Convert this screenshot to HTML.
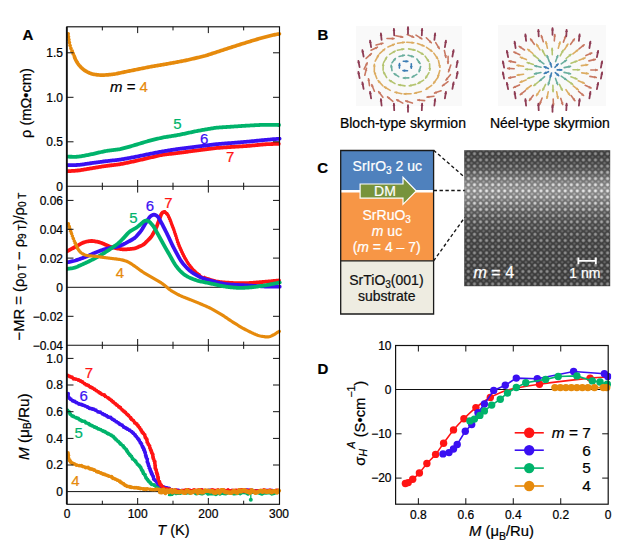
<!DOCTYPE html>
<html><head><meta charset="utf-8"><style>
html,body{margin:0;padding:0;background:#fff;overflow:hidden;width:636px;height:551px;}
svg{display:block;}
text{font-family:"Liberation Sans", sans-serif;}
</style></head><body>
<svg width="636" height="551" viewBox="0 0 636 551">
<defs>
<clipPath id="clipA1"><rect x="67" y="26.8" width="215" height="159.5"/></clipPath>
<clipPath id="clipA2"><rect x="67" y="186.3" width="215" height="159.0"/></clipPath>
<clipPath id="clipA3"><rect x="67" y="345.3" width="215" height="159.0"/></clipPath>
<clipPath id="clipRedL"><rect x="0" y="0" width="166" height="551"/><rect x="204" y="0" width="100" height="551"/></clipPath><clipPath id="clipRedR"><rect x="166" y="0" width="38" height="551"/></clipPath><clipPath id="clipRedL2"><rect x="206" y="0" width="100" height="551"/></clipPath><clipPath id="clipOrL"><rect x="76" y="0" width="300" height="551"/></clipPath><clipPath id="clipOrR"><rect x="0" y="0" width="76" height="551"/></clipPath><clipPath id="clipOtL"><rect x="73" y="0" width="300" height="551"/></clipPath><clipPath id="clipOtR"><rect x="0" y="0" width="73" height="551"/></clipPath>
<clipPath id="clipD"><rect x="395.6" y="345.5" width="215.60000000000002" height="158.7"/></clipPath>
</defs>
<line x1="67" y1="287.3" x2="279" y2="287.3" stroke="#111" stroke-width="1.0" />
<line x1="67" y1="491.6" x2="279" y2="491.6" stroke="#111" stroke-width="1.0" />
<g clip-path="url(#clipA1)">
<path d="M68.20,33.70 L68.32,34.69 L68.43,35.69 L68.55,36.68 L68.67,37.67 L68.79,38.66 L68.93,39.65 L69.07,40.64 L69.23,41.63 L69.41,42.61 L69.61,43.59 L69.83,44.56 L70.08,45.53 L70.34,46.49 L70.63,47.44 L70.94,48.39 L71.28,49.33 L71.62,50.27 L71.99,51.20 L72.35,52.13 L72.73,53.05 L73.11,53.98 L73.49,54.90 L73.88,55.82 L74.28,56.74 L74.68,57.65 L75.11,58.56 L75.54,59.46 L75.99,60.35 L76.46,61.22 L76.96,62.09 L77.48,62.93 L78.04,63.75 L78.63,64.55 L79.24,65.33 L79.89,66.10 L80.55,66.83 L81.25,67.54 L81.97,68.23 L82.71,68.89 L83.48,69.52 L84.27,70.12 L85.08,70.68 L85.92,71.21 L86.78,71.70 L87.67,72.15 L88.57,72.56 L89.48,72.95 L90.41,73.31 L91.35,73.64 L92.30,73.92 L93.26,74.17 L94.23,74.37 L95.21,74.54 L96.19,74.69 L97.18,74.82 L98.17,74.92 L99.17,75.01 L100.16,75.07 L101.16,75.10 L102.16,75.11 L103.15,75.09 L104.15,75.06 L105.15,75.01 L106.15,74.95 L107.14,74.87 L108.14,74.79 L109.14,74.70 L110.13,74.60 L111.12,74.50 L112.12,74.39 L113.11,74.26 L114.10,74.12 L115.08,73.96 L116.06,73.79 L117.04,73.59 L118.02,73.39 L119.00,73.18 L119.98,72.97 L120.95,72.75 L121.93,72.54 L122.91,72.33 L123.89,72.12 L124.87,71.92 L125.84,71.71 L126.82,71.51 L127.80,71.31 L128.78,71.11 L129.76,70.91 L130.74,70.72 L131.72,70.52 L132.70,70.32 L133.68,70.12 L134.66,69.92 L135.64,69.73 L136.63,69.53 L137.61,69.33 L138.59,69.13 L139.57,68.93 L140.55,68.74 L141.53,68.54 L142.51,68.34 L143.49,68.14 L144.47,67.95 L145.45,67.75 L146.43,67.55 L147.41,67.36 L148.39,67.16 L149.37,66.97 L150.35,66.78 L151.34,66.59 L152.32,66.41 L153.30,66.24 L154.29,66.07 L155.27,65.90 L156.26,65.74 L157.25,65.57 L158.23,65.41 L159.22,65.25 L160.21,65.09 L161.19,64.92 L162.18,64.76 L163.17,64.59 L164.15,64.43 L165.14,64.26 L166.12,64.08 L167.11,63.90 L168.09,63.73 L169.07,63.55 L170.06,63.36 L171.04,63.18 L172.02,63.00 L173.01,62.82 L173.99,62.64 L174.97,62.45 L175.96,62.27 L176.94,62.09 L177.92,61.91 L178.91,61.73 L179.89,61.54 L180.87,61.36 L181.86,61.18 L182.84,60.99 L183.82,60.79 L184.80,60.59 L185.78,60.39 L186.75,60.17 L187.73,59.95 L188.70,59.73 L189.68,59.50 L190.65,59.27 L191.62,59.04 L192.60,58.81 L193.57,58.59 L194.54,58.36 L195.52,58.13 L196.49,57.90 L197.46,57.67 L198.44,57.44 L199.41,57.21 L200.38,56.98 L201.36,56.75 L202.33,56.51 L203.30,56.27 L204.26,56.01 L205.23,55.75 L206.18,55.47 L207.14,55.17 L208.09,54.87 L209.04,54.57 L210.00,54.26 L210.95,53.94 L211.90,53.63 L212.85,53.32 L213.80,53.01 L214.75,52.70 L215.70,52.38 L216.65,52.07 L217.60,51.76 L218.55,51.45 L219.50,51.13 L220.45,50.82 L221.40,50.51 L222.35,50.20 L223.30,49.88 L224.25,49.57 L225.20,49.26 L226.15,48.95 L227.10,48.64 L228.05,48.34 L229.00,48.03 L229.95,47.72 L230.91,47.42 L231.86,47.12 L232.81,46.81 L233.76,46.51 L234.72,46.21 L235.67,45.90 L236.62,45.60 L237.58,45.30 L238.53,44.99 L239.48,44.69 L240.44,44.39 L241.39,44.09 L242.34,43.79 L243.30,43.49 L244.25,43.19 L245.21,42.90 L246.16,42.60 L247.12,42.31 L248.08,42.02 L249.03,41.73 L249.99,41.43 L250.94,41.14 L251.90,40.85 L252.86,40.56 L253.81,40.26 L254.77,39.97 L255.73,39.68 L256.69,39.40 L257.65,39.12 L258.61,38.84 L259.57,38.57 L260.53,38.31 L261.50,38.05 L262.47,37.79 L263.43,37.54 L264.40,37.29 L265.37,37.03 L266.34,36.78 L267.30,36.53 L268.27,36.27 L269.24,36.02 L270.21,35.77 L271.18,35.53 L272.15,35.29 L273.12,35.06 L274.09,34.85 L275.07,34.65 L276.04,34.46 L277.01,34.29 L277.97,34.13 L278.92,33.98 L279.40,33.90" fill="none" stroke="#e68a0c" stroke-width="3.7" stroke-linecap="round" stroke-linejoin="round" clip-path="url(#clipOtL)"/>
<path d="M68.20,33.70 L68.32,34.69 L68.43,35.69 L68.55,36.68 L68.67,37.67 L68.79,38.66 L68.93,39.65 L69.07,40.64 L69.23,41.63 L69.41,42.61 L69.61,43.59 L69.83,44.56 L70.08,45.53 L70.34,46.49 L70.63,47.44 L70.94,48.39 L71.28,49.33 L71.62,50.27 L71.99,51.20 L72.35,52.13 L72.73,53.05 L73.11,53.98 L73.49,54.90 L73.88,55.82 L74.28,56.74 L74.68,57.65 L75.11,58.56 L75.54,59.46 L75.99,60.35 L76.46,61.22 L76.96,62.09 L77.48,62.93 L78.04,63.75 L78.63,64.55 L79.24,65.33 L79.89,66.10 L80.55,66.83 L81.25,67.54 L81.97,68.23 L82.71,68.89 L83.48,69.52 L84.27,70.12 L85.08,70.68 L85.92,71.21 L86.78,71.70 L87.67,72.15 L88.57,72.56 L89.48,72.95 L90.41,73.31 L91.35,73.64 L92.30,73.92 L93.26,74.17 L94.23,74.37 L95.21,74.54 L96.19,74.69 L97.18,74.82 L98.17,74.92 L99.17,75.01 L100.16,75.07 L101.16,75.10 L102.16,75.11 L103.15,75.09 L104.15,75.06 L105.15,75.01 L106.15,74.95 L107.14,74.87 L108.14,74.79 L109.14,74.70 L110.13,74.60 L111.12,74.50 L112.12,74.39 L113.11,74.26 L114.10,74.12 L115.08,73.96 L116.06,73.79 L117.04,73.59 L118.02,73.39 L119.00,73.18 L119.98,72.97 L120.95,72.75 L121.93,72.54 L122.91,72.33 L123.89,72.12 L124.87,71.92 L125.84,71.71 L126.82,71.51 L127.80,71.31 L128.78,71.11 L129.76,70.91 L130.74,70.72 L131.72,70.52 L132.70,70.32 L133.68,70.12 L134.66,69.92 L135.64,69.73 L136.63,69.53 L137.61,69.33 L138.59,69.13 L139.57,68.93 L140.55,68.74 L141.53,68.54 L142.51,68.34 L143.49,68.14 L144.47,67.95 L145.45,67.75 L146.43,67.55 L147.41,67.36 L148.39,67.16 L149.37,66.97 L150.35,66.78 L151.34,66.59 L152.32,66.41 L153.30,66.24 L154.29,66.07 L155.27,65.90 L156.26,65.74 L157.25,65.57 L158.23,65.41 L159.22,65.25 L160.21,65.09 L161.19,64.92 L162.18,64.76 L163.17,64.59 L164.15,64.43 L165.14,64.26 L166.12,64.08 L167.11,63.90 L168.09,63.73 L169.07,63.55 L170.06,63.36 L171.04,63.18 L172.02,63.00 L173.01,62.82 L173.99,62.64 L174.97,62.45 L175.96,62.27 L176.94,62.09 L177.92,61.91 L178.91,61.73 L179.89,61.54 L180.87,61.36 L181.86,61.18 L182.84,60.99 L183.82,60.79 L184.80,60.59 L185.78,60.39 L186.75,60.17 L187.73,59.95 L188.70,59.73 L189.68,59.50 L190.65,59.27 L191.62,59.04 L192.60,58.81 L193.57,58.59 L194.54,58.36 L195.52,58.13 L196.49,57.90 L197.46,57.67 L198.44,57.44 L199.41,57.21 L200.38,56.98 L201.36,56.75 L202.33,56.51 L203.30,56.27 L204.26,56.01 L205.23,55.75 L206.18,55.47 L207.14,55.17 L208.09,54.87 L209.04,54.57 L210.00,54.26 L210.95,53.94 L211.90,53.63 L212.85,53.32 L213.80,53.01 L214.75,52.70 L215.70,52.38 L216.65,52.07 L217.60,51.76 L218.55,51.45 L219.50,51.13 L220.45,50.82 L221.40,50.51 L222.35,50.20 L223.30,49.88 L224.25,49.57 L225.20,49.26 L226.15,48.95 L227.10,48.64 L228.05,48.34 L229.00,48.03 L229.95,47.72 L230.91,47.42 L231.86,47.12 L232.81,46.81 L233.76,46.51 L234.72,46.21 L235.67,45.90 L236.62,45.60 L237.58,45.30 L238.53,44.99 L239.48,44.69 L240.44,44.39 L241.39,44.09 L242.34,43.79 L243.30,43.49 L244.25,43.19 L245.21,42.90 L246.16,42.60 L247.12,42.31 L248.08,42.02 L249.03,41.73 L249.99,41.43 L250.94,41.14 L251.90,40.85 L252.86,40.56 L253.81,40.26 L254.77,39.97 L255.73,39.68 L256.69,39.40 L257.65,39.12 L258.61,38.84 L259.57,38.57 L260.53,38.31 L261.50,38.05 L262.47,37.79 L263.43,37.54 L264.40,37.29 L265.37,37.03 L266.34,36.78 L267.30,36.53 L268.27,36.27 L269.24,36.02 L270.21,35.77 L271.18,35.53 L272.15,35.29 L273.12,35.06 L274.09,34.85 L275.07,34.65 L276.04,34.46 L277.01,34.29 L277.97,34.13 L278.92,33.98 L279.40,33.90" fill="none" stroke="#e68a0c" stroke-width="2.0" stroke-linecap="round" stroke-linejoin="round" clip-path="url(#clipOtR)"/>
<g fill="#e68a0c"><circle cx="68.20" cy="33.70" r="1.8"/><circle cx="68.55" cy="36.68" r="1.8"/><circle cx="68.93" cy="39.66" r="1.8"/><circle cx="69.41" cy="42.62" r="1.8"/><circle cx="70.08" cy="45.54" r="1.8"/><circle cx="70.95" cy="48.41" r="1.8"/><circle cx="72.00" cy="51.22" r="1.8"/><circle cx="73.12" cy="54.00" r="1.8"/><circle cx="74.29" cy="56.77" r="1.8"/></g>
<path d="M67.80,171.20 L68.80,171.14 L69.80,171.08 L70.79,171.03 L71.79,170.97 L72.79,170.91 L73.79,170.84 L74.79,170.78 L75.78,170.70 L76.78,170.61 L77.77,170.51 L78.76,170.40 L79.75,170.27 L80.74,170.13 L81.73,169.98 L82.72,169.82 L83.70,169.66 L84.69,169.49 L85.68,169.33 L86.66,169.16 L87.65,168.99 L88.63,168.82 L89.62,168.66 L90.60,168.49 L91.59,168.32 L92.58,168.15 L93.56,167.99 L94.55,167.82 L95.53,167.65 L96.52,167.49 L97.51,167.32 L98.49,167.15 L99.48,166.99 L100.46,166.82 L101.45,166.66 L102.44,166.49 L103.42,166.33 L104.41,166.18 L105.40,166.03 L106.39,165.88 L107.38,165.75 L108.37,165.62 L109.36,165.50 L110.36,165.38 L111.35,165.26 L112.34,165.15 L113.34,165.04 L114.33,164.93 L115.32,164.81 L116.32,164.69 L117.31,164.57 L118.30,164.44 L119.29,164.29 L120.27,164.14 L121.26,163.97 L122.24,163.79 L123.22,163.60 L124.20,163.40 L125.18,163.20 L126.16,163.00 L127.14,162.79 L128.12,162.58 L129.09,162.38 L130.07,162.17 L131.05,161.96 L132.03,161.75 L133.01,161.54 L133.98,161.32 L134.96,161.10 L135.93,160.88 L136.91,160.66 L137.88,160.44 L138.86,160.21 L139.83,159.98 L140.80,159.75 L141.78,159.53 L142.75,159.30 L143.72,159.07 L144.70,158.84 L145.67,158.62 L146.65,158.39 L147.62,158.16 L148.59,157.93 L149.57,157.71 L150.54,157.48 L151.52,157.25 L152.49,157.03 L153.46,156.80 L154.44,156.57 L155.41,156.35 L156.39,156.12 L157.36,155.90 L158.34,155.68 L159.31,155.47 L160.29,155.26 L161.27,155.07 L162.25,154.89 L163.24,154.72 L164.22,154.57 L165.21,154.44 L166.20,154.31 L167.20,154.19 L168.19,154.08 L169.18,153.97 L170.18,153.86 L171.17,153.75 L172.16,153.64 L173.16,153.53 L174.15,153.42 L175.15,153.31 L176.14,153.19 L177.13,153.07 L178.12,152.95 L179.12,152.83 L180.11,152.70 L181.10,152.57 L182.09,152.43 L183.08,152.30 L184.07,152.16 L185.06,152.03 L186.05,151.89 L187.04,151.76 L188.04,151.62 L189.03,151.48 L190.02,151.35 L191.01,151.21 L192.00,151.07 L192.99,150.94 L193.98,150.80 L194.97,150.67 L195.96,150.54 L196.95,150.40 L197.94,150.27 L198.94,150.14 L199.93,150.02 L200.92,149.89 L201.91,149.76 L202.90,149.63 L203.89,149.51 L204.89,149.38 L205.88,149.25 L206.87,149.13 L207.86,149.00 L208.85,148.87 L209.85,148.75 L210.84,148.62 L211.83,148.50 L212.82,148.38 L213.82,148.27 L214.81,148.16 L215.81,148.06 L216.80,147.97 L217.80,147.89 L218.79,147.81 L219.79,147.74 L220.79,147.67 L221.79,147.60 L222.78,147.54 L223.78,147.47 L224.78,147.40 L225.78,147.34 L226.78,147.27 L227.77,147.21 L228.77,147.14 L229.77,147.08 L230.77,147.01 L231.76,146.95 L232.76,146.88 L233.76,146.82 L234.76,146.75 L235.76,146.69 L236.75,146.63 L237.75,146.56 L238.75,146.50 L239.75,146.43 L240.75,146.37 L241.74,146.31 L242.74,146.24 L243.74,146.18 L244.74,146.11 L245.74,146.05 L246.73,145.98 L247.73,145.91 L248.73,145.83 L249.72,145.75 L250.72,145.67 L251.72,145.58 L252.71,145.48 L253.71,145.39 L254.70,145.29 L255.70,145.19 L256.69,145.09 L257.69,144.99 L258.68,144.89 L259.68,144.79 L260.67,144.69 L261.67,144.59 L262.66,144.50 L263.66,144.41 L264.65,144.34 L265.65,144.27 L266.65,144.21 L267.65,144.16 L268.65,144.12 L269.64,144.08 L270.64,144.05 L271.64,144.02 L272.63,143.98 L273.62,143.95 L274.60,143.93 L275.56,143.90 L276.50,143.87 L277.43,143.84 L278.35,143.81 L278.80,143.80" fill="none" stroke="#ff1414" stroke-width="3.8" stroke-linecap="round" stroke-linejoin="round" />
<path d="M67.80,165.10 L68.80,165.10 L69.80,165.10 L70.80,165.10 L71.80,165.10 L72.80,165.09 L73.80,165.09 L74.80,165.07 L75.80,165.05 L76.79,165.01 L77.79,164.95 L78.78,164.88 L79.78,164.78 L80.77,164.67 L81.76,164.55 L82.75,164.41 L83.74,164.27 L84.73,164.13 L85.72,163.98 L86.71,163.83 L87.70,163.69 L88.68,163.54 L89.67,163.40 L90.66,163.25 L91.65,163.11 L92.64,162.97 L93.63,162.83 L94.62,162.69 L95.62,162.56 L96.61,162.43 L97.60,162.29 L98.59,162.16 L99.58,162.03 L100.57,161.89 L101.56,161.76 L102.55,161.63 L103.55,161.50 L104.54,161.38 L105.53,161.25 L106.52,161.13 L107.52,161.02 L108.51,160.90 L109.50,160.80 L110.50,160.69 L111.49,160.58 L112.49,160.48 L113.48,160.38 L114.47,160.27 L115.47,160.16 L116.46,160.05 L117.46,159.94 L118.45,159.82 L119.44,159.69 L120.43,159.54 L121.42,159.39 L122.40,159.23 L123.39,159.07 L124.37,158.89 L125.36,158.72 L126.34,158.54 L127.32,158.36 L128.31,158.18 L129.29,158.00 L130.27,157.82 L131.26,157.63 L132.24,157.45 L133.22,157.26 L134.20,157.07 L135.19,156.88 L136.17,156.69 L137.15,156.49 L138.13,156.29 L139.11,156.09 L140.09,155.89 L141.07,155.69 L142.05,155.49 L143.02,155.29 L144.00,155.08 L144.98,154.88 L145.96,154.68 L146.94,154.48 L147.92,154.29 L148.90,154.09 L149.88,153.89 L150.87,153.70 L151.85,153.50 L152.83,153.31 L153.81,153.11 L154.79,152.92 L155.77,152.73 L156.75,152.53 L157.73,152.34 L158.71,152.15 L159.70,151.96 L160.68,151.78 L161.66,151.60 L162.65,151.42 L163.63,151.25 L164.62,151.09 L165.61,150.93 L166.59,150.77 L167.58,150.62 L168.57,150.46 L169.56,150.31 L170.55,150.15 L171.53,150.00 L172.52,149.85 L173.51,149.70 L174.50,149.55 L175.49,149.40 L176.48,149.25 L177.47,149.11 L178.46,148.97 L179.45,148.83 L180.44,148.70 L181.43,148.57 L182.42,148.44 L183.41,148.31 L184.40,148.19 L185.40,148.06 L186.39,147.93 L187.38,147.81 L188.37,147.68 L189.36,147.56 L190.36,147.43 L191.35,147.30 L192.34,147.18 L193.33,147.05 L194.33,146.93 L195.32,146.80 L196.31,146.67 L197.30,146.55 L198.29,146.42 L199.29,146.30 L200.28,146.17 L201.27,146.04 L202.26,145.92 L203.25,145.79 L204.24,145.66 L205.24,145.54 L206.23,145.41 L207.22,145.28 L208.21,145.16 L209.20,145.03 L210.20,144.90 L211.19,144.78 L212.18,144.66 L213.17,144.54 L214.17,144.42 L215.16,144.32 L216.16,144.21 L217.15,144.12 L218.15,144.03 L219.14,143.95 L220.14,143.86 L221.14,143.79 L222.13,143.71 L223.13,143.63 L224.13,143.56 L225.12,143.48 L226.12,143.40 L227.12,143.33 L228.12,143.25 L229.11,143.17 L230.11,143.10 L231.11,143.02 L232.10,142.94 L233.10,142.86 L234.10,142.78 L235.09,142.70 L236.09,142.62 L237.09,142.54 L238.08,142.46 L239.08,142.38 L240.08,142.30 L241.07,142.21 L242.07,142.13 L243.07,142.05 L244.06,141.97 L245.06,141.88 L246.06,141.80 L247.05,141.71 L248.05,141.63 L249.05,141.54 L250.04,141.45 L251.04,141.35 L252.03,141.26 L253.03,141.16 L254.02,141.06 L255.02,140.96 L256.01,140.86 L257.01,140.76 L258.00,140.65 L259.00,140.55 L259.99,140.45 L260.99,140.35 L261.98,140.25 L262.98,140.15 L263.97,140.06 L264.97,139.96 L265.96,139.87 L266.96,139.78 L267.95,139.69 L268.95,139.60 L269.95,139.52 L270.94,139.43 L271.94,139.35 L272.93,139.26 L273.92,139.18 L274.90,139.10 L275.87,139.02 L276.82,138.93 L277.76,138.86 L278.68,138.78 L279.60,138.70 L279.60,138.70" fill="none" stroke="#3a10f2" stroke-width="3.8" stroke-linecap="round" stroke-linejoin="round" />
<path d="M67.80,156.70 L68.80,156.72 L69.80,156.74 L70.80,156.76 L71.80,156.77 L72.80,156.79 L73.80,156.80 L74.80,156.79 L75.79,156.78 L76.79,156.74 L77.78,156.68 L78.77,156.59 L79.76,156.47 L80.74,156.33 L81.73,156.16 L82.71,155.99 L83.69,155.80 L84.67,155.61 L85.65,155.42 L86.63,155.22 L87.61,155.03 L88.59,154.83 L89.57,154.63 L90.55,154.43 L91.53,154.22 L92.51,154.02 L93.49,153.80 L94.46,153.58 L95.44,153.36 L96.41,153.14 L97.39,152.92 L98.36,152.69 L99.34,152.47 L100.31,152.24 L101.28,152.02 L102.26,151.80 L103.24,151.58 L104.21,151.38 L105.19,151.18 L106.17,151.00 L107.16,150.83 L108.15,150.68 L109.13,150.54 L110.13,150.42 L111.12,150.30 L112.11,150.18 L113.10,150.07 L114.10,149.95 L115.09,149.84 L116.08,149.71 L117.07,149.58 L118.06,149.44 L119.04,149.28 L120.02,149.10 L121.00,148.89 L121.97,148.67 L122.94,148.43 L123.91,148.18 L124.87,147.92 L125.83,147.65 L126.80,147.38 L127.76,147.11 L128.72,146.84 L129.68,146.57 L130.65,146.30 L131.61,146.02 L132.57,145.75 L133.53,145.47 L134.49,145.19 L135.45,144.90 L136.41,144.62 L137.36,144.33 L138.32,144.04 L139.28,143.75 L140.23,143.46 L141.19,143.17 L142.15,142.88 L143.10,142.59 L144.06,142.30 L145.02,142.01 L145.98,141.73 L146.94,141.45 L147.90,141.18 L148.86,140.91 L149.83,140.65 L150.80,140.40 L151.77,140.16 L152.74,139.91 L153.71,139.67 L154.68,139.43 L155.65,139.19 L156.62,138.95 L157.59,138.72 L158.56,138.48 L159.54,138.25 L160.51,138.03 L161.49,137.82 L162.46,137.61 L163.44,137.42 L164.43,137.24 L165.41,137.07 L166.40,136.91 L167.39,136.75 L168.37,136.59 L169.36,136.44 L170.35,136.28 L171.34,136.13 L172.33,135.98 L173.31,135.82 L174.30,135.66 L175.29,135.50 L176.27,135.34 L177.26,135.16 L178.24,134.98 L179.22,134.79 L180.20,134.60 L181.18,134.40 L182.16,134.19 L183.14,133.98 L184.12,133.77 L185.09,133.56 L186.07,133.35 L187.05,133.14 L188.02,132.93 L189.00,132.71 L189.98,132.50 L190.96,132.29 L191.93,132.08 L192.91,131.87 L193.89,131.66 L194.87,131.46 L195.85,131.26 L196.83,131.06 L197.81,130.87 L198.79,130.69 L199.78,130.51 L200.76,130.33 L201.74,130.15 L202.73,129.98 L203.71,129.80 L204.70,129.63 L205.68,129.46 L206.67,129.29 L207.65,129.11 L208.64,128.94 L209.62,128.77 L210.61,128.60 L211.60,128.43 L212.58,128.27 L213.57,128.12 L214.56,127.98 L215.55,127.85 L216.54,127.73 L217.53,127.63 L218.53,127.54 L219.52,127.46 L220.52,127.39 L221.52,127.32 L222.52,127.25 L223.51,127.19 L224.51,127.12 L225.51,127.06 L226.51,126.99 L227.51,126.93 L228.50,126.86 L229.50,126.80 L230.50,126.73 L231.50,126.66 L232.49,126.60 L233.49,126.54 L234.49,126.47 L235.49,126.41 L236.49,126.34 L237.48,126.28 L238.48,126.21 L239.48,126.15 L240.48,126.09 L241.48,126.02 L242.47,125.96 L243.47,125.90 L244.47,125.83 L245.47,125.77 L246.47,125.71 L247.46,125.65 L248.46,125.59 L249.46,125.53 L250.46,125.47 L251.46,125.42 L252.46,125.36 L253.45,125.31 L254.45,125.26 L255.45,125.21 L256.45,125.16 L257.45,125.11 L258.45,125.05 L259.45,125.01 L260.45,124.96 L261.44,124.91 L262.44,124.87 L263.44,124.83 L264.44,124.81 L265.44,124.79 L266.44,124.78 L267.44,124.78 L268.44,124.78 L269.44,124.80 L270.44,124.82 L271.43,124.83 L272.43,124.86 L273.42,124.88 L274.40,124.90 L275.36,124.92 L276.30,124.94 L277.22,124.96 L278.11,124.98 L279.00,125.00 L279.00,125.00" fill="none" stroke="#00b36b" stroke-width="3.8" stroke-linecap="round" stroke-linejoin="round" />
</g>
<g clip-path="url(#clipA2)">
<path d="M67.50,251.00 L68.38,250.53 L69.27,250.07 L70.15,249.60 L71.04,249.13 L71.92,248.67 L72.80,248.20 L73.69,247.73 L74.57,247.25 L75.44,246.77 L76.32,246.29 L77.19,245.80 L78.07,245.32 L78.94,244.83 L79.81,244.35 L80.69,243.87 L81.58,243.42 L82.47,242.99 L83.38,242.61 L84.31,242.27 L85.26,241.97 L86.21,241.71 L87.18,241.49 L88.15,241.30 L89.13,241.15 L90.11,241.04 L91.09,240.99 L92.07,241.00 L93.05,241.07 L94.04,241.18 L95.02,241.33 L96.00,241.51 L96.98,241.70 L97.95,241.92 L98.91,242.16 L99.87,242.44 L100.81,242.75 L101.74,243.09 L102.67,243.46 L103.59,243.85 L104.50,244.25 L105.42,244.65 L106.33,245.05 L107.25,245.44 L108.17,245.82 L109.10,246.19 L110.04,246.52 L110.99,246.83 L111.95,247.11 L112.91,247.37 L113.88,247.63 L114.85,247.87 L115.82,248.11 L116.79,248.34 L117.76,248.56 L118.74,248.76 L119.72,248.94 L120.71,249.10 L121.70,249.23 L122.69,249.34 L123.68,249.40 L124.67,249.42 L125.66,249.38 L126.66,249.32 L127.65,249.23 L128.65,249.13 L129.64,249.03 L130.64,248.93 L131.63,248.82 L132.62,248.71 L133.61,248.56 L134.58,248.37 L135.53,248.10 L136.46,247.78 L137.39,247.40 L138.31,247.01 L139.22,246.61 L140.14,246.21 L141.05,245.81 L141.95,245.38 L142.83,244.92 L143.65,244.39 L144.43,243.78 L145.15,243.11 L145.86,242.40 L146.57,241.69 L147.27,240.98 L147.97,240.27 L148.67,239.56 L149.37,238.85 L150.07,238.13 L150.73,237.38 L151.33,236.60 L151.88,235.77 L152.40,234.92 L152.91,234.05 L153.41,233.19 L153.91,232.32 L154.41,231.46 L154.90,230.59 L155.36,229.70 L155.78,228.80 L156.17,227.88 L156.53,226.95 L156.88,226.01 L157.24,225.08 L157.59,224.14 L157.95,223.21 L158.30,222.27 L158.65,221.34 L159.00,220.40 L159.34,219.46 L159.68,218.52 L160.01,217.57 L160.35,216.63 L160.68,215.69 L161.04,214.77 L161.47,213.90 L162.02,213.14 L162.72,212.52 L163.52,212.10 L164.35,211.95 L165.19,212.14 L165.99,212.58 L166.70,213.21 L167.29,213.96 L167.77,214.81 L168.21,215.70 L168.64,216.61 L169.06,217.52 L169.47,218.43 L169.86,219.35 L170.23,220.27 L170.59,221.21 L170.95,222.14 L171.30,223.08 L171.65,224.01 L172.01,224.95 L172.36,225.88 L172.71,226.82 L173.06,227.75 L173.41,228.69 L173.76,229.63 L174.09,230.57 L174.42,231.52 L174.73,232.47 L175.04,233.42 L175.34,234.37 L175.65,235.32 L175.96,236.27 L176.26,237.23 L176.57,238.18 L176.88,239.13 L177.18,240.08 L177.49,241.03 L177.80,241.98 L178.12,242.93 L178.45,243.87 L178.80,244.81 L179.17,245.74 L179.56,246.66 L179.96,247.57 L180.36,248.49 L180.77,249.40 L181.18,250.31 L181.59,251.22 L182.01,252.13 L182.43,253.04 L182.87,253.94 L183.31,254.83 L183.77,255.72 L184.23,256.60 L184.71,257.49 L185.18,258.36 L185.67,259.24 L186.15,260.11 L186.65,260.98 L187.16,261.83 L187.68,262.68 L188.23,263.51 L188.79,264.33 L189.38,265.13 L189.99,265.92 L190.61,266.70 L191.24,267.47 L191.89,268.23 L192.55,268.97 L193.23,269.70 L193.92,270.42 L194.63,271.11 L195.35,271.79 L196.10,272.45 L196.86,273.09 L197.63,273.71 L198.43,274.30 L199.24,274.88 L200.06,275.44 L200.89,275.96 L201.75,276.46 L202.62,276.93 L203.50,277.36 L204.40,277.76 L205.32,278.13 L206.25,278.48 L207.19,278.81 L208.13,279.12 L209.09,279.42 L210.04,279.71 L211.00,280.00 L211.95,280.28 L212.91,280.56 L213.88,280.82 L214.84,281.06 L215.81,281.29 L216.78,281.49 L217.76,281.67 L218.74,281.83 L219.73,281.97 L220.72,282.08 L221.71,282.19 L222.70,282.28 L223.70,282.36 L224.69,282.44 L225.69,282.52 L226.69,282.59 L227.68,282.66 L228.68,282.73 L229.68,282.80 L230.68,282.87 L231.67,282.93 L232.67,282.99 L233.67,283.04 L234.67,283.08 L235.67,283.11 L236.67,283.14 L237.67,283.16 L238.67,283.18 L239.67,283.18 L240.67,283.19 L241.66,283.19 L242.66,283.19 L243.66,283.18 L244.66,283.17 L245.66,283.16 L246.66,283.14 L247.66,283.11 L248.66,283.07 L249.66,283.02 L250.66,282.96 L251.65,282.90 L252.65,282.83 L253.65,282.76 L254.64,282.68 L255.64,282.60 L256.64,282.51 L257.63,282.43 L258.63,282.34 L259.62,282.26 L260.62,282.17 L261.62,282.08 L262.61,282.00 L263.61,281.91 L264.61,281.82 L265.60,281.73 L266.60,281.64 L267.59,281.55 L268.59,281.46 L269.58,281.37 L270.58,281.27 L271.57,281.18 L272.57,281.09 L273.56,281.00 L274.55,280.91 L275.54,280.82 L276.53,280.73 L277.52,280.64 L278.51,280.55 L279.00,280.50" fill="none" stroke="#ff1414" stroke-width="3.8" stroke-linecap="round" stroke-linejoin="round" clip-path="url(#clipRedL)"/>
<path d="M67.50,251.00 L68.38,250.53 L69.27,250.07 L70.15,249.60 L71.04,249.13 L71.92,248.67 L72.80,248.20 L73.69,247.73 L74.57,247.25 L75.44,246.77 L76.32,246.29 L77.19,245.80 L78.07,245.32 L78.94,244.83 L79.81,244.35 L80.69,243.87 L81.58,243.42 L82.47,242.99 L83.38,242.61 L84.31,242.27 L85.26,241.97 L86.21,241.71 L87.18,241.49 L88.15,241.30 L89.13,241.15 L90.11,241.04 L91.09,240.99 L92.07,241.00 L93.05,241.07 L94.04,241.18 L95.02,241.33 L96.00,241.51 L96.98,241.70 L97.95,241.92 L98.91,242.16 L99.87,242.44 L100.81,242.75 L101.74,243.09 L102.67,243.46 L103.59,243.85 L104.50,244.25 L105.42,244.65 L106.33,245.05 L107.25,245.44 L108.17,245.82 L109.10,246.19 L110.04,246.52 L110.99,246.83 L111.95,247.11 L112.91,247.37 L113.88,247.63 L114.85,247.87 L115.82,248.11 L116.79,248.34 L117.76,248.56 L118.74,248.76 L119.72,248.94 L120.71,249.10 L121.70,249.23 L122.69,249.34 L123.68,249.40 L124.67,249.42 L125.66,249.38 L126.66,249.32 L127.65,249.23 L128.65,249.13 L129.64,249.03 L130.64,248.93 L131.63,248.82 L132.62,248.71 L133.61,248.56 L134.58,248.37 L135.53,248.10 L136.46,247.78 L137.39,247.40 L138.31,247.01 L139.22,246.61 L140.14,246.21 L141.05,245.81 L141.95,245.38 L142.83,244.92 L143.65,244.39 L144.43,243.78 L145.15,243.11 L145.86,242.40 L146.57,241.69 L147.27,240.98 L147.97,240.27 L148.67,239.56 L149.37,238.85 L150.07,238.13 L150.73,237.38 L151.33,236.60 L151.88,235.77 L152.40,234.92 L152.91,234.05 L153.41,233.19 L153.91,232.32 L154.41,231.46 L154.90,230.59 L155.36,229.70 L155.78,228.80 L156.17,227.88 L156.53,226.95 L156.88,226.01 L157.24,225.08 L157.59,224.14 L157.95,223.21 L158.30,222.27 L158.65,221.34 L159.00,220.40 L159.34,219.46 L159.68,218.52 L160.01,217.57 L160.35,216.63 L160.68,215.69 L161.04,214.77 L161.47,213.90 L162.02,213.14 L162.72,212.52 L163.52,212.10 L164.35,211.95 L165.19,212.14 L165.99,212.58 L166.70,213.21 L167.29,213.96 L167.77,214.81 L168.21,215.70 L168.64,216.61 L169.06,217.52 L169.47,218.43 L169.86,219.35 L170.23,220.27 L170.59,221.21 L170.95,222.14 L171.30,223.08 L171.65,224.01 L172.01,224.95 L172.36,225.88 L172.71,226.82 L173.06,227.75 L173.41,228.69 L173.76,229.63 L174.09,230.57 L174.42,231.52 L174.73,232.47 L175.04,233.42 L175.34,234.37 L175.65,235.32 L175.96,236.27 L176.26,237.23 L176.57,238.18 L176.88,239.13 L177.18,240.08 L177.49,241.03 L177.80,241.98 L178.12,242.93 L178.45,243.87 L178.80,244.81 L179.17,245.74 L179.56,246.66 L179.96,247.57 L180.36,248.49 L180.77,249.40 L181.18,250.31 L181.59,251.22 L182.01,252.13 L182.43,253.04 L182.87,253.94 L183.31,254.83 L183.77,255.72 L184.23,256.60 L184.71,257.49 L185.18,258.36 L185.67,259.24 L186.15,260.11 L186.65,260.98 L187.16,261.83 L187.68,262.68 L188.23,263.51 L188.79,264.33 L189.38,265.13 L189.99,265.92 L190.61,266.70 L191.24,267.47 L191.89,268.23 L192.55,268.97 L193.23,269.70 L193.92,270.42 L194.63,271.11 L195.35,271.79 L196.10,272.45 L196.86,273.09 L197.63,273.71 L198.43,274.30 L199.24,274.88 L200.06,275.44 L200.89,275.96 L201.75,276.46 L202.62,276.93 L203.50,277.36 L204.40,277.76 L205.32,278.13 L206.25,278.48 L207.19,278.81 L208.13,279.12 L209.09,279.42 L210.04,279.71 L211.00,280.00 L211.95,280.28 L212.91,280.56 L213.88,280.82 L214.84,281.06 L215.81,281.29 L216.78,281.49 L217.76,281.67 L218.74,281.83 L219.73,281.97 L220.72,282.08 L221.71,282.19 L222.70,282.28 L223.70,282.36 L224.69,282.44 L225.69,282.52 L226.69,282.59 L227.68,282.66 L228.68,282.73 L229.68,282.80 L230.68,282.87 L231.67,282.93 L232.67,282.99 L233.67,283.04 L234.67,283.08 L235.67,283.11 L236.67,283.14 L237.67,283.16 L238.67,283.18 L239.67,283.18 L240.67,283.19 L241.66,283.19 L242.66,283.19 L243.66,283.18 L244.66,283.17 L245.66,283.16 L246.66,283.14 L247.66,283.11 L248.66,283.07 L249.66,283.02 L250.66,282.96 L251.65,282.90 L252.65,282.83 L253.65,282.76 L254.64,282.68 L255.64,282.60 L256.64,282.51 L257.63,282.43 L258.63,282.34 L259.62,282.26 L260.62,282.17 L261.62,282.08 L262.61,282.00 L263.61,281.91 L264.61,281.82 L265.60,281.73 L266.60,281.64 L267.59,281.55 L268.59,281.46 L269.58,281.37 L270.58,281.27 L271.57,281.18 L272.57,281.09 L273.56,281.00 L274.55,280.91 L275.54,280.82 L276.53,280.73 L277.52,280.64 L278.51,280.55 L279.00,280.50" fill="none" stroke="#ff1414" stroke-width="2.4" stroke-linecap="round" stroke-linejoin="round" clip-path="url(#clipRedR)"/>
<g fill="#ff1414"><circle cx="165.15" cy="212.13" r="1.75"/><circle cx="166.89" cy="213.44" r="1.75"/><circle cx="168.02" cy="215.31" r="1.75"/><circle cx="168.96" cy="217.31" r="1.75"/><circle cx="169.85" cy="219.32" r="1.75"/><circle cx="170.65" cy="221.37" r="1.75"/><circle cx="171.43" cy="223.42" r="1.75"/><circle cx="172.21" cy="225.48" r="1.75"/><circle cx="172.98" cy="227.54" r="1.75"/><circle cx="173.75" cy="229.60" r="1.75"/><circle cx="174.47" cy="231.68" r="1.75"/><circle cx="175.15" cy="233.77" r="1.75"/><circle cx="175.83" cy="235.87" r="1.75"/><circle cx="176.50" cy="237.96" r="1.75"/><circle cx="177.17" cy="240.06" r="1.75"/><circle cx="177.86" cy="242.15" r="1.75"/><circle cx="178.58" cy="244.22" r="1.75"/><circle cx="179.39" cy="246.27" r="1.75"/><circle cx="180.27" cy="248.29" r="1.75"/><circle cx="181.17" cy="250.29" r="1.75"/><circle cx="182.08" cy="252.29" r="1.75"/><circle cx="183.04" cy="254.28" r="1.75"/><circle cx="184.04" cy="256.24" r="1.75"/><circle cx="185.08" cy="258.17" r="1.75"/><circle cx="186.15" cy="260.10" r="1.75"/><circle cx="187.26" cy="262.00" r="1.75"/><circle cx="188.45" cy="263.84" r="1.75"/><circle cx="189.75" cy="265.62" r="1.75"/><circle cx="191.13" cy="267.33" r="1.75"/><circle cx="192.57" cy="268.99" r="1.75"/><circle cx="194.09" cy="270.59" r="1.75"/><circle cx="195.69" cy="272.10" r="1.75"/><circle cx="197.38" cy="273.51" r="1.75"/><circle cx="199.14" cy="274.82" r="1.75"/></g>
<path d="M66.70,262.40 L67.68,262.21 L68.66,262.02 L69.64,261.82 L70.62,261.63 L71.60,261.43 L72.58,261.22 L73.55,260.99 L74.52,260.75 L75.48,260.48 L76.43,260.19 L77.38,259.88 L78.33,259.56 L79.27,259.23 L80.21,258.90 L81.16,258.56 L82.10,258.22 L83.04,257.88 L83.97,257.53 L84.91,257.17 L85.83,256.80 L86.76,256.42 L87.68,256.03 L88.59,255.63 L89.51,255.23 L90.42,254.82 L91.34,254.41 L92.25,254.00 L93.16,253.60 L94.08,253.19 L94.99,252.80 L95.92,252.41 L96.84,252.04 L97.77,251.68 L98.71,251.33 L99.65,250.98 L100.59,250.65 L101.53,250.32 L102.48,249.99 L103.42,249.66 L104.37,249.35 L105.32,249.04 L106.27,248.75 L107.23,248.49 L108.20,248.25 L109.18,248.05 L110.16,247.86 L111.14,247.70 L112.13,247.54 L113.11,247.39 L114.10,247.24 L115.09,247.07 L116.07,246.90 L117.04,246.69 L118.00,246.45 L118.95,246.17 L119.88,245.84 L120.81,245.48 L121.73,245.09 L122.63,244.68 L123.53,244.25 L124.43,243.80 L125.32,243.35 L126.20,242.88 L127.08,242.40 L127.96,241.92 L128.83,241.44 L129.71,240.96 L130.58,240.47 L131.46,239.99 L132.32,239.50 L133.18,238.99 L134.01,238.45 L134.80,237.86 L135.53,237.20 L136.23,236.50 L136.89,235.76 L137.55,235.00 L138.20,234.24 L138.85,233.48 L139.50,232.72 L140.14,231.96 L140.76,231.18 L141.35,230.38 L141.91,229.55 L142.43,228.70 L142.94,227.84 L143.44,226.97 L143.94,226.11 L144.44,225.24 L144.95,224.38 L145.46,223.52 L145.98,222.67 L146.51,221.82 L147.05,220.98 L147.60,220.14 L148.14,219.30 L148.69,218.47 L149.26,217.65 L149.87,216.89 L150.58,216.23 L151.38,215.67 L152.23,215.19 L153.11,214.83 L153.98,214.69 L154.86,214.83 L155.73,215.20 L156.57,215.69 L157.35,216.27 L158.01,216.96 L158.58,217.76 L159.08,218.61 L159.58,219.48 L160.06,220.35 L160.55,221.23 L161.04,222.10 L161.52,222.98 L162.00,223.86 L162.46,224.74 L162.92,225.63 L163.37,226.52 L163.82,227.41 L164.27,228.31 L164.72,229.20 L165.17,230.09 L165.62,230.99 L166.08,231.88 L166.52,232.77 L166.97,233.67 L167.41,234.56 L167.85,235.46 L168.28,236.37 L168.70,237.27 L169.13,238.18 L169.55,239.08 L169.97,239.99 L170.39,240.90 L170.81,241.80 L171.24,242.71 L171.66,243.62 L172.09,244.52 L172.52,245.42 L172.97,246.32 L173.42,247.21 L173.88,248.09 L174.35,248.98 L174.82,249.86 L175.29,250.74 L175.77,251.62 L176.25,252.50 L176.72,253.38 L177.20,254.26 L177.67,255.14 L178.15,256.01 L178.63,256.89 L179.12,257.76 L179.62,258.63 L180.13,259.48 L180.66,260.32 L181.22,261.15 L181.79,261.97 L182.38,262.77 L182.99,263.55 L183.62,264.33 L184.25,265.10 L184.91,265.85 L185.57,266.59 L186.25,267.32 L186.94,268.04 L187.65,268.73 L188.38,269.41 L189.12,270.08 L189.88,270.72 L190.65,271.34 L191.44,271.95 L192.25,272.53 L193.07,273.08 L193.91,273.62 L194.76,274.14 L195.62,274.65 L196.48,275.14 L197.35,275.63 L198.23,276.10 L199.12,276.56 L200.01,277.00 L200.90,277.43 L201.81,277.83 L202.73,278.21 L203.66,278.56 L204.59,278.89 L205.54,279.19 L206.49,279.47 L207.45,279.74 L208.42,280.00 L209.38,280.25 L210.35,280.50 L211.32,280.74 L212.29,280.99 L213.26,281.23 L214.23,281.48 L215.20,281.73 L216.17,281.98 L217.13,282.23 L218.10,282.48 L219.07,282.73 L220.04,282.97 L221.01,283.20 L221.98,283.42 L222.96,283.62 L223.93,283.81 L224.92,283.98 L225.90,284.12 L226.89,284.24 L227.88,284.34 L228.87,284.43 L229.87,284.51 L230.86,284.57 L231.86,284.63 L232.86,284.68 L233.86,284.74 L234.85,284.79 L235.85,284.84 L236.85,284.89 L237.85,284.94 L238.85,284.99 L239.85,285.05 L240.85,285.10 L241.84,285.15 L242.84,285.21 L243.84,285.26 L244.84,285.32 L245.84,285.38 L246.84,285.43 L247.83,285.49 L248.83,285.55 L249.83,285.61 L250.83,285.66 L251.83,285.72 L252.83,285.78 L253.82,285.84 L254.82,285.90 L255.82,285.96 L256.82,286.03 L257.82,286.09 L258.81,286.15 L259.81,286.21 L260.81,286.27 L261.81,286.33 L262.81,286.39 L263.81,286.44 L264.80,286.49 L265.80,286.54 L266.80,286.58 L267.80,286.61 L268.80,286.64 L269.80,286.66 L270.80,286.67 L271.79,286.68 L272.79,286.69 L273.78,286.69 L274.78,286.70 L275.77,286.70 L276.75,286.70 L277.74,286.70 L278.72,286.70 L279.70,286.70 L279.70,286.70" fill="none" stroke="#3a10f2" stroke-width="3.8" stroke-linecap="round" stroke-linejoin="round" />
<path d="M66.70,269.00 L67.69,268.86 L68.68,268.71 L69.67,268.56 L70.66,268.42 L71.64,268.26 L72.62,268.09 L73.60,267.89 L74.56,267.65 L75.51,267.36 L76.44,267.03 L77.37,266.66 L78.28,266.27 L79.20,265.86 L80.11,265.46 L81.02,265.05 L81.93,264.64 L82.85,264.23 L83.76,263.81 L84.66,263.39 L85.57,262.97 L86.47,262.54 L87.37,262.11 L88.27,261.67 L89.17,261.23 L90.07,260.79 L90.96,260.34 L91.86,259.90 L92.75,259.45 L93.65,259.01 L94.54,258.56 L95.43,258.10 L96.31,257.63 L97.19,257.15 L98.06,256.65 L98.92,256.15 L99.78,255.63 L100.63,255.12 L101.49,254.60 L102.34,254.08 L103.20,253.56 L104.05,253.05 L104.91,252.53 L105.76,252.00 L106.61,251.47 L107.45,250.93 L108.29,250.39 L109.11,249.83 L109.94,249.26 L110.76,248.69 L111.58,248.12 L112.40,247.55 L113.22,246.98 L114.04,246.41 L114.86,245.83 L115.68,245.26 L116.49,244.68 L117.29,244.08 L118.07,243.46 L118.83,242.82 L119.56,242.14 L120.27,241.44 L120.97,240.73 L121.67,240.01 L122.36,239.29 L123.05,238.57 L123.74,237.84 L124.42,237.11 L125.10,236.37 L125.77,235.63 L126.44,234.89 L127.11,234.15 L127.79,233.42 L128.48,232.70 L129.20,232.03 L129.98,231.41 L130.79,230.85 L131.64,230.33 L132.50,229.83 L133.37,229.33 L134.24,228.83 L135.10,228.33 L135.96,227.82 L136.80,227.28 L137.61,226.71 L138.40,226.09 L139.17,225.45 L139.93,224.81 L140.69,224.15 L141.44,223.50 L142.19,222.84 L142.95,222.18 L143.70,221.55 L144.48,221.01 L145.31,220.67 L146.20,220.60 L147.13,220.74 L148.06,221.03 L148.92,221.45 L149.69,222.02 L150.39,222.70 L151.06,223.44 L151.72,224.19 L152.37,224.95 L152.99,225.72 L153.57,226.53 L154.10,227.38 L154.60,228.24 L155.09,229.11 L155.58,229.98 L156.07,230.86 L156.56,231.73 L157.05,232.60 L157.54,233.47 L158.03,234.34 L158.51,235.22 L159.00,236.09 L159.48,236.97 L159.96,237.85 L160.44,238.72 L160.92,239.60 L161.40,240.48 L161.88,241.36 L162.36,242.24 L162.84,243.11 L163.32,243.99 L163.80,244.86 L164.29,245.74 L164.78,246.61 L165.27,247.48 L165.77,248.35 L166.27,249.21 L166.76,250.08 L167.26,250.95 L167.76,251.81 L168.26,252.68 L168.76,253.55 L169.25,254.42 L169.74,255.29 L170.23,256.16 L170.72,257.03 L171.21,257.91 L171.69,258.78 L172.18,259.65 L172.67,260.53 L173.16,261.39 L173.66,262.26 L174.18,263.11 L174.71,263.96 L175.25,264.79 L175.81,265.61 L176.40,266.42 L177.00,267.21 L177.62,267.99 L178.25,268.76 L178.90,269.51 L179.57,270.25 L180.25,270.97 L180.95,271.67 L181.67,272.36 L182.41,273.02 L183.17,273.67 L183.94,274.28 L184.74,274.87 L185.55,275.43 L186.39,275.95 L187.24,276.45 L188.12,276.91 L189.01,277.35 L189.91,277.77 L190.82,278.17 L191.74,278.56 L192.66,278.93 L193.59,279.29 L194.53,279.63 L195.47,279.96 L196.41,280.27 L197.37,280.56 L198.32,280.83 L199.29,281.08 L200.26,281.31 L201.23,281.53 L202.21,281.74 L203.18,281.94 L204.16,282.14 L205.14,282.34 L206.12,282.54 L207.10,282.74 L208.08,282.94 L209.06,283.15 L210.04,283.36 L211.02,283.57 L211.99,283.78 L212.97,284.00 L213.94,284.22 L214.92,284.43 L215.90,284.65 L216.87,284.87 L217.85,285.09 L218.82,285.30 L219.80,285.52 L220.78,285.72 L221.76,285.92 L222.74,286.12 L223.72,286.30 L224.70,286.47 L225.69,286.62 L226.68,286.77 L227.67,286.90 L228.66,287.02 L229.65,287.13 L230.64,287.24 L231.64,287.34 L232.63,287.44 L233.63,287.53 L234.62,287.62 L235.62,287.69 L236.61,287.76 L237.61,287.81 L238.61,287.84 L239.60,287.86 L240.60,287.86 L241.60,287.85 L242.59,287.82 L243.59,287.78 L244.59,287.73 L245.59,287.68 L246.58,287.62 L247.58,287.55 L248.58,287.48 L249.58,287.41 L250.57,287.33 L251.57,287.24 L252.56,287.14 L253.55,287.03 L254.55,286.92 L255.54,286.79 L256.53,286.66 L257.52,286.52 L258.51,286.38 L259.50,286.23 L260.49,286.08 L261.47,285.93 L262.46,285.77 L263.45,285.61 L264.43,285.45 L265.42,285.29 L266.41,285.12 L267.39,284.94 L268.37,284.76 L269.35,284.58 L270.33,284.39 L271.31,284.20 L272.28,284.01 L273.25,283.82 L274.20,283.62 L275.15,283.43 L276.08,283.24 L277.00,283.05 L277.91,282.87 L278.81,282.68 L279.70,282.50 L279.70,282.50" fill="none" stroke="#00b36b" stroke-width="3.8" stroke-linecap="round" stroke-linejoin="round" />
<path d="M68.40,223.70 L68.68,224.66 L68.96,225.62 L69.24,226.58 L69.52,227.54 L69.81,228.50 L70.11,229.45 L70.42,230.40 L70.73,231.35 L71.05,232.30 L71.37,233.25 L71.70,234.19 L72.03,235.13 L72.37,236.07 L72.72,237.01 L73.08,237.94 L73.44,238.88 L73.81,239.81 L74.18,240.74 L74.55,241.66 L74.94,242.59 L75.32,243.51 L75.72,244.43 L76.11,245.34 L76.53,246.25 L76.96,247.15 L77.43,248.03 L77.93,248.89 L78.46,249.73 L79.02,250.55 L79.62,251.33 L80.27,252.05 L81.00,252.69 L81.79,253.26 L82.62,253.77 L83.50,254.24 L84.39,254.66 L85.31,255.01 L86.24,255.30 L87.20,255.50 L88.18,255.65 L89.17,255.76 L90.16,255.86 L91.16,255.94 L92.15,256.03 L93.15,256.11 L94.15,256.20 L95.14,256.29 L96.14,256.39 L97.13,256.50 L98.12,256.63 L99.11,256.76 L100.10,256.90 L101.09,257.05 L102.08,257.19 L103.07,257.33 L104.06,257.48 L105.05,257.62 L106.04,257.76 L107.03,257.89 L108.02,258.02 L109.02,258.15 L110.01,258.27 L111.00,258.38 L111.99,258.50 L112.99,258.61 L113.98,258.72 L114.98,258.83 L115.97,258.95 L116.96,259.07 L117.95,259.21 L118.94,259.35 L119.92,259.52 L120.90,259.71 L121.88,259.92 L122.85,260.15 L123.81,260.40 L124.77,260.67 L125.71,260.98 L126.63,261.32 L127.54,261.71 L128.42,262.15 L129.29,262.62 L130.14,263.13 L130.98,263.67 L131.82,264.21 L132.65,264.77 L133.47,265.33 L134.29,265.90 L135.11,266.48 L135.93,267.06 L136.74,267.64 L137.54,268.23 L138.35,268.83 L139.15,269.42 L139.96,270.01 L140.77,270.59 L141.59,271.16 L142.42,271.72 L143.25,272.27 L144.09,272.81 L144.94,273.33 L145.80,273.85 L146.66,274.36 L147.52,274.87 L148.38,275.38 L149.24,275.88 L150.11,276.38 L150.97,276.89 L151.84,277.39 L152.70,277.89 L153.57,278.39 L154.43,278.89 L155.30,279.39 L156.17,279.89 L157.03,280.39 L157.90,280.89 L158.76,281.40 L159.62,281.91 L160.47,282.43 L161.31,282.96 L162.13,283.52 L162.95,284.09 L163.74,284.69 L164.52,285.31 L165.30,285.94 L166.06,286.58 L166.82,287.23 L167.58,287.87 L168.35,288.51 L169.13,289.13 L169.93,289.73 L170.74,290.30 L171.56,290.85 L172.41,291.39 L173.26,291.90 L174.12,292.40 L174.99,292.89 L175.87,293.38 L176.74,293.86 L177.62,294.33 L178.51,294.79 L179.40,295.24 L180.30,295.67 L181.20,296.09 L182.12,296.49 L183.04,296.87 L183.97,297.24 L184.90,297.60 L185.83,297.96 L186.77,298.32 L187.70,298.68 L188.63,299.04 L189.57,299.40 L190.50,299.77 L191.43,300.13 L192.36,300.50 L193.28,300.88 L194.21,301.25 L195.14,301.63 L196.06,302.00 L196.99,302.38 L197.91,302.76 L198.84,303.14 L199.76,303.53 L200.68,303.92 L201.60,304.31 L202.52,304.70 L203.44,305.10 L204.36,305.49 L205.28,305.89 L206.19,306.29 L207.11,306.70 L208.02,307.10 L208.93,307.52 L209.83,307.95 L210.72,308.39 L211.61,308.85 L212.49,309.32 L213.37,309.80 L214.24,310.29 L215.11,310.78 L215.98,311.28 L216.85,311.77 L217.71,312.27 L218.58,312.77 L219.44,313.28 L220.29,313.80 L221.14,314.32 L221.99,314.86 L222.83,315.40 L223.66,315.95 L224.49,316.51 L225.32,317.07 L226.15,317.63 L226.98,318.19 L227.80,318.75 L228.63,319.31 L229.46,319.87 L230.29,320.43 L231.13,320.98 L231.96,321.52 L232.81,322.06 L233.65,322.60 L234.49,323.13 L235.34,323.67 L236.19,324.19 L237.04,324.72 L237.89,325.25 L238.74,325.78 L239.59,326.30 L240.45,326.82 L241.31,327.33 L242.17,327.82 L243.05,328.31 L243.92,328.78 L244.81,329.25 L245.70,329.71 L246.59,330.16 L247.48,330.61 L248.37,331.06 L249.27,331.51 L250.16,331.96 L251.06,332.40 L251.96,332.83 L252.87,333.25 L253.78,333.66 L254.70,334.05 L255.62,334.44 L256.55,334.81 L257.48,335.16 L258.42,335.48 L259.37,335.77 L260.33,336.01 L261.30,336.21 L262.29,336.38 L263.27,336.53 L264.26,336.67 L265.25,336.80 L266.23,336.90 L267.21,336.96 L268.17,336.92 L269.11,336.77 L270.03,336.49 L270.94,336.12 L271.83,335.69 L272.72,335.23 L273.60,334.76 L274.47,334.27 L275.33,333.76 L276.18,333.24 L277.02,332.72 L277.83,332.22 L278.59,331.74 L279.30,331.30 L279.30,331.30" fill="none" stroke="#e68a0c" stroke-width="3.2" stroke-linecap="round" stroke-linejoin="round" clip-path="url(#clipOrL)"/>
<path d="M68.40,223.70 L68.68,224.66 L68.96,225.62 L69.24,226.58 L69.52,227.54 L69.81,228.50 L70.11,229.45 L70.42,230.40 L70.73,231.35 L71.05,232.30 L71.37,233.25 L71.70,234.19 L72.03,235.13 L72.37,236.07 L72.72,237.01 L73.08,237.94 L73.44,238.88 L73.81,239.81 L74.18,240.74 L74.55,241.66 L74.94,242.59 L75.32,243.51 L75.72,244.43 L76.11,245.34 L76.53,246.25 L76.96,247.15 L77.43,248.03 L77.93,248.89 L78.46,249.73 L79.02,250.55 L79.62,251.33 L80.27,252.05 L81.00,252.69 L81.79,253.26 L82.62,253.77 L83.50,254.24 L84.39,254.66 L85.31,255.01 L86.24,255.30 L87.20,255.50 L88.18,255.65 L89.17,255.76 L90.16,255.86 L91.16,255.94 L92.15,256.03 L93.15,256.11 L94.15,256.20 L95.14,256.29 L96.14,256.39 L97.13,256.50 L98.12,256.63 L99.11,256.76 L100.10,256.90 L101.09,257.05 L102.08,257.19 L103.07,257.33 L104.06,257.48 L105.05,257.62 L106.04,257.76 L107.03,257.89 L108.02,258.02 L109.02,258.15 L110.01,258.27 L111.00,258.38 L111.99,258.50 L112.99,258.61 L113.98,258.72 L114.98,258.83 L115.97,258.95 L116.96,259.07 L117.95,259.21 L118.94,259.35 L119.92,259.52 L120.90,259.71 L121.88,259.92 L122.85,260.15 L123.81,260.40 L124.77,260.67 L125.71,260.98 L126.63,261.32 L127.54,261.71 L128.42,262.15 L129.29,262.62 L130.14,263.13 L130.98,263.67 L131.82,264.21 L132.65,264.77 L133.47,265.33 L134.29,265.90 L135.11,266.48 L135.93,267.06 L136.74,267.64 L137.54,268.23 L138.35,268.83 L139.15,269.42 L139.96,270.01 L140.77,270.59 L141.59,271.16 L142.42,271.72 L143.25,272.27 L144.09,272.81 L144.94,273.33 L145.80,273.85 L146.66,274.36 L147.52,274.87 L148.38,275.38 L149.24,275.88 L150.11,276.38 L150.97,276.89 L151.84,277.39 L152.70,277.89 L153.57,278.39 L154.43,278.89 L155.30,279.39 L156.17,279.89 L157.03,280.39 L157.90,280.89 L158.76,281.40 L159.62,281.91 L160.47,282.43 L161.31,282.96 L162.13,283.52 L162.95,284.09 L163.74,284.69 L164.52,285.31 L165.30,285.94 L166.06,286.58 L166.82,287.23 L167.58,287.87 L168.35,288.51 L169.13,289.13 L169.93,289.73 L170.74,290.30 L171.56,290.85 L172.41,291.39 L173.26,291.90 L174.12,292.40 L174.99,292.89 L175.87,293.38 L176.74,293.86 L177.62,294.33 L178.51,294.79 L179.40,295.24 L180.30,295.67 L181.20,296.09 L182.12,296.49 L183.04,296.87 L183.97,297.24 L184.90,297.60 L185.83,297.96 L186.77,298.32 L187.70,298.68 L188.63,299.04 L189.57,299.40 L190.50,299.77 L191.43,300.13 L192.36,300.50 L193.28,300.88 L194.21,301.25 L195.14,301.63 L196.06,302.00 L196.99,302.38 L197.91,302.76 L198.84,303.14 L199.76,303.53 L200.68,303.92 L201.60,304.31 L202.52,304.70 L203.44,305.10 L204.36,305.49 L205.28,305.89 L206.19,306.29 L207.11,306.70 L208.02,307.10 L208.93,307.52 L209.83,307.95 L210.72,308.39 L211.61,308.85 L212.49,309.32 L213.37,309.80 L214.24,310.29 L215.11,310.78 L215.98,311.28 L216.85,311.77 L217.71,312.27 L218.58,312.77 L219.44,313.28 L220.29,313.80 L221.14,314.32 L221.99,314.86 L222.83,315.40 L223.66,315.95 L224.49,316.51 L225.32,317.07 L226.15,317.63 L226.98,318.19 L227.80,318.75 L228.63,319.31 L229.46,319.87 L230.29,320.43 L231.13,320.98 L231.96,321.52 L232.81,322.06 L233.65,322.60 L234.49,323.13 L235.34,323.67 L236.19,324.19 L237.04,324.72 L237.89,325.25 L238.74,325.78 L239.59,326.30 L240.45,326.82 L241.31,327.33 L242.17,327.82 L243.05,328.31 L243.92,328.78 L244.81,329.25 L245.70,329.71 L246.59,330.16 L247.48,330.61 L248.37,331.06 L249.27,331.51 L250.16,331.96 L251.06,332.40 L251.96,332.83 L252.87,333.25 L253.78,333.66 L254.70,334.05 L255.62,334.44 L256.55,334.81 L257.48,335.16 L258.42,335.48 L259.37,335.77 L260.33,336.01 L261.30,336.21 L262.29,336.38 L263.27,336.53 L264.26,336.67 L265.25,336.80 L266.23,336.90 L267.21,336.96 L268.17,336.92 L269.11,336.77 L270.03,336.49 L270.94,336.12 L271.83,335.69 L272.72,335.23 L273.60,334.76 L274.47,334.27 L275.33,333.76 L276.18,333.24 L277.02,332.72 L277.83,332.22 L278.59,331.74 L279.30,331.30 L279.30,331.30" fill="none" stroke="#e68a0c" stroke-width="2.0" stroke-linecap="round" stroke-linejoin="round" clip-path="url(#clipOrR)"/>
<g fill="#e68a0c"><circle cx="68.40" cy="223.70" r="1.75"/><circle cx="69.13" cy="226.20" r="1.75"/><circle cx="69.87" cy="228.69" r="1.75"/><circle cx="70.67" cy="231.16" r="1.75"/><circle cx="71.50" cy="233.62" r="1.75"/><circle cx="72.37" cy="236.08" r="1.75"/><circle cx="73.29" cy="238.51" r="1.75"/><circle cx="74.25" cy="240.92" r="1.75"/><circle cx="75.25" cy="243.32" r="1.75"/><circle cx="76.28" cy="245.71" r="1.75"/><circle cx="77.44" cy="248.04" r="1.75"/></g>
</g>
<g clip-path="url(#clipA3)">
<polyline points="168.0,494.3 170.0,494.4 172.0,494.2 174.0,492.1 176.0,493.4 178.0,493.0 180.0,493.3 182.0,492.2 184.0,492.4 186.0,493.1 188.0,492.5 190.0,493.1 192.0,492.0 194.0,492.1 196.0,493.7 198.0,493.0 200.0,493.2 202.0,493.8 204.0,492.8 206.0,492.0 208.0,493.9 210.0,493.4 212.0,493.6 214.0,493.5 216.0,494.4 218.0,492.8 220.0,493.9 222.0,492.9 224.0,493.4 226.0,493.6 228.0,492.7 230.0,492.1 232.0,493.1 234.0,493.8 236.0,493.4 238.0,493.1 240.0,493.6 242.0,492.4 244.0,492.4 246.0,492.7 248.0,494.0 250.0,492.4 252.0,492.2 254.0,492.2 256.0,492.0 258.0,492.6 260.0,493.4 262.0,494.0 264.0,492.8 266.0,492.9 268.0,492.7 270.0,492.7 272.0,493.9 274.0,493.3 276.0,492.6 278.0,492.2" fill="none" stroke="#00b36b" stroke-width="3.6" stroke-linejoin="round"/>
<polyline points="168.0,491.5 170.0,490.2 172.0,490.0 174.0,491.6 176.0,490.3 178.0,490.2 180.0,491.0 182.0,490.6 184.0,491.4 186.0,490.4 188.0,491.5 190.0,490.5 192.0,491.0 194.0,491.5 196.0,491.1 198.0,491.5 200.0,491.1 202.0,490.1 204.0,491.4 206.0,490.9 208.0,490.5 210.0,490.3 212.0,491.4 214.0,490.9 216.0,491.5 218.0,491.2 220.0,491.5 222.0,490.9 224.0,491.1 226.0,491.0 228.0,490.4 230.0,491.5 232.0,490.5 234.0,491.2 236.0,491.5 238.0,491.0 240.0,490.2 242.0,491.3 244.0,491.1 246.0,490.3 248.0,490.1 250.0,490.9 252.0,490.1 254.0,491.5 256.0,490.8 258.0,490.8 260.0,490.7 262.0,491.1 264.0,491.5 266.0,490.5 268.0,490.6 270.0,490.9 272.0,490.5 274.0,491.0 276.0,490.9 278.0,490.7" fill="none" stroke="#3a10f2" stroke-width="3.6" stroke-linejoin="round"/>
<polyline points="168.0,490.0 170.0,490.9 172.0,490.8 174.0,490.6 176.0,490.1 178.0,491.1 180.0,491.2 182.0,490.6 184.0,490.6 186.0,490.1 188.0,489.7 190.0,490.4 192.0,490.8 194.0,489.8 196.0,491.1 198.0,490.1 200.0,490.1 202.0,489.8 204.0,491.5 206.0,491.0 208.0,491.3 210.0,490.8 212.0,489.8 214.0,490.3 216.0,490.6 218.0,489.9 220.0,491.4 222.0,490.4 224.0,490.0 226.0,491.2 228.0,489.9 230.0,491.4 232.0,490.5 234.0,490.7 236.0,490.3 238.0,490.6 240.0,490.0 242.0,489.8 244.0,491.3 246.0,490.1 248.0,491.1 250.0,490.1 252.0,491.4 254.0,491.3 256.0,491.1 258.0,491.1 260.0,490.7 262.0,491.0 264.0,489.9 266.0,490.6 268.0,491.2 270.0,490.1 272.0,491.4 274.0,491.3 276.0,490.4 278.0,490.4" fill="none" stroke="#ff1414" stroke-width="3.6" stroke-linejoin="round"/>
<path d="M67.80,410.20 L68.29,411.07 L68.78,411.94 L69.29,412.79 L69.83,413.60 L70.43,414.35 L71.11,415.02 L71.87,415.61 L72.70,416.13 L73.56,416.61 L74.45,417.06 L75.34,417.51 L76.24,417.95 L77.14,418.38 L78.04,418.81 L78.95,419.22 L79.86,419.64 L80.77,420.05 L81.69,420.46 L82.60,420.87 L83.51,421.28 L84.41,421.71 L85.31,422.15 L86.19,422.61 L87.07,423.09 L87.94,423.58 L88.81,424.07 L89.69,424.55 L90.57,425.02 L91.46,425.47 L92.35,425.91 L93.25,426.35 L94.16,426.78 L95.06,427.21 L95.96,427.64 L96.86,428.07 L97.77,428.51 L98.67,428.94 L99.57,429.37 L100.47,429.80 L101.37,430.24 L102.27,430.68 L103.16,431.12 L104.06,431.57 L104.96,432.01 L105.85,432.45 L106.75,432.90 L107.64,433.34 L108.54,433.79 L109.42,434.25 L110.29,434.73 L111.14,435.24 L111.96,435.80 L112.74,436.41 L113.50,437.05 L114.24,437.72 L114.97,438.40 L115.70,439.08 L116.43,439.76 L117.16,440.45 L117.89,441.14 L118.61,441.82 L119.34,442.51 L120.06,443.20 L120.78,443.89 L121.50,444.59 L122.22,445.29 L122.93,445.99 L123.64,446.69 L124.33,447.41 L125.01,448.14 L125.66,448.89 L126.26,449.68 L126.83,450.49 L127.38,451.32 L127.92,452.16 L128.47,453.00 L129.03,453.82 L129.63,454.62 L130.24,455.40 L130.88,456.17 L131.52,456.94 L132.17,457.70 L132.82,458.46 L133.47,459.22 L134.12,459.97 L134.77,460.73 L135.42,461.49 L136.07,462.25 L136.72,463.01 L137.37,463.77 L138.02,464.53 L138.67,465.29 L139.31,466.06 L139.93,466.84 L140.52,467.64 L141.07,468.47 L141.58,469.32 L142.06,470.19 L142.53,471.07 L142.98,471.96 L143.43,472.86 L143.88,473.75 L144.33,474.64 L144.78,475.53 L145.25,476.41 L145.75,477.27 L146.28,478.12 L146.84,478.94 L147.43,479.74 L148.05,480.52 L148.69,481.28 L149.37,482.00 L150.08,482.67 L150.84,483.29 L151.65,483.86 L152.49,484.39 L153.35,484.90 L154.21,485.39 L155.09,485.87 L155.97,486.33 L156.87,486.76 L157.79,487.14 L158.72,487.49 L159.66,487.82 L160.61,488.12 L161.57,488.42 L162.52,488.72 L163.48,489.01 L164.44,489.29 L165.40,489.56 L166.37,489.82 L167.33,490.08 L168.30,490.32 L169.26,490.57 L170.22,490.81 L171.16,491.04 L172.09,491.27 L173.00,491.50 L173.00,491.50" fill="none" stroke="#00b36b" stroke-width="2.6" stroke-linecap="round" stroke-linejoin="round" />
<g fill="#00b36b"><circle cx="67.54" cy="410.44" r="1.95"/><circle cx="69.12" cy="412.03" r="1.95"/><circle cx="70.22" cy="414.07" r="1.95"/><circle cx="72.03" cy="415.84" r="1.95"/><circle cx="73.63" cy="416.46" r="1.95"/><circle cx="76.20" cy="417.77" r="1.95"/><circle cx="78.23" cy="418.46" r="1.95"/><circle cx="80.10" cy="419.92" r="1.95"/><circle cx="82.05" cy="421.02" r="1.95"/><circle cx="84.61" cy="421.34" r="1.95"/><circle cx="86.04" cy="422.74" r="1.95"/><circle cx="88.69" cy="423.74" r="1.95"/><circle cx="90.21" cy="424.88" r="1.95"/><circle cx="92.13" cy="425.77" r="1.95"/><circle cx="94.49" cy="426.96" r="1.95"/><circle cx="96.42" cy="427.76" r="1.95"/><circle cx="98.49" cy="428.92" r="1.95"/><circle cx="100.61" cy="429.61" r="1.95"/><circle cx="103.06" cy="430.99" r="1.95"/><circle cx="104.98" cy="431.75" r="1.95"/><circle cx="107.29" cy="433.25" r="1.95"/><circle cx="108.73" cy="433.91" r="1.95"/><circle cx="111.16" cy="435.30" r="1.95"/><circle cx="113.17" cy="436.45" r="1.95"/><circle cx="114.81" cy="438.15" r="1.95"/><circle cx="116.12" cy="439.66" r="1.95"/><circle cx="118.20" cy="441.42" r="1.95"/><circle cx="119.61" cy="442.83" r="1.95"/><circle cx="120.93" cy="444.18" r="1.95"/><circle cx="123.11" cy="445.91" r="1.95"/><circle cx="124.29" cy="447.64" r="1.95"/><circle cx="126.16" cy="449.47" r="1.95"/><circle cx="127.24" cy="451.20" r="1.95"/><circle cx="128.59" cy="453.36" r="1.95"/><circle cx="129.95" cy="454.95" r="1.95"/><circle cx="131.40" cy="456.47" r="1.95"/><circle cx="132.58" cy="458.69" r="1.95"/><circle cx="134.73" cy="460.36" r="1.95"/><circle cx="135.81" cy="461.81" r="1.95"/><circle cx="137.39" cy="464.12" r="1.95"/><circle cx="139.06" cy="465.56" r="1.95"/><circle cx="140.55" cy="467.15" r="1.95"/><circle cx="141.56" cy="469.58" r="1.95"/><circle cx="142.69" cy="471.27" r="1.95"/><circle cx="143.51" cy="473.38" r="1.95"/><circle cx="145.04" cy="475.05" r="1.95"/><circle cx="146.03" cy="477.63" r="1.95"/><circle cx="147.39" cy="479.49" r="1.95"/><circle cx="148.77" cy="481.13" r="1.95"/><circle cx="150.21" cy="482.70" r="1.95"/><circle cx="151.71" cy="484.36" r="1.95"/><circle cx="154.05" cy="485.06" r="1.95"/><circle cx="156.03" cy="486.35" r="1.95"/><circle cx="158.04" cy="487.17" r="1.95"/><circle cx="160.34" cy="488.11" r="1.95"/><circle cx="162.59" cy="488.69" r="1.95"/><circle cx="164.38" cy="489.18" r="1.95"/><circle cx="166.71" cy="490.03" r="1.95"/><circle cx="169.41" cy="490.75" r="1.95"/><circle cx="171.60" cy="491.32" r="1.95"/></g>
<path d="M67.80,393.50 L67.94,394.48 L68.11,395.45 L68.34,396.37 L68.66,397.23 L69.12,398.00 L69.73,398.68 L70.45,399.28 L71.25,399.82 L72.09,400.34 L72.95,400.84 L73.83,401.32 L74.71,401.78 L75.61,402.21 L76.52,402.62 L77.44,403.01 L78.36,403.39 L79.29,403.77 L80.22,404.15 L81.14,404.52 L82.07,404.89 L83.00,405.27 L83.93,405.64 L84.85,406.02 L85.78,406.39 L86.71,406.77 L87.63,407.14 L88.56,407.51 L89.49,407.89 L90.42,408.26 L91.34,408.64 L92.27,409.01 L93.20,409.39 L94.12,409.77 L95.05,410.15 L95.97,410.54 L96.88,410.95 L97.79,411.37 L98.69,411.80 L99.59,412.23 L100.48,412.68 L101.38,413.12 L102.28,413.56 L103.17,414.01 L104.07,414.45 L104.96,414.90 L105.85,415.35 L106.74,415.81 L107.62,416.28 L108.50,416.77 L109.36,417.27 L110.23,417.77 L111.09,418.28 L111.95,418.79 L112.80,419.30 L113.66,419.82 L114.52,420.33 L115.38,420.84 L116.23,421.36 L117.08,421.89 L117.91,422.44 L118.74,423.00 L119.54,423.59 L120.33,424.20 L121.13,424.81 L121.92,425.41 L122.73,426.00 L123.54,426.58 L124.37,427.13 L125.21,427.68 L126.05,428.22 L126.90,428.75 L127.74,429.29 L128.58,429.83 L129.42,430.38 L130.24,430.94 L131.04,431.53 L131.81,432.15 L132.57,432.81 L133.30,433.48 L134.01,434.18 L134.71,434.89 L135.40,435.62 L136.06,436.36 L136.71,437.12 L137.34,437.89 L137.96,438.68 L138.56,439.47 L139.14,440.28 L139.69,441.11 L140.20,441.96 L140.67,442.84 L141.10,443.74 L141.52,444.64 L141.92,445.56 L142.33,446.47 L142.73,447.39 L143.12,448.30 L143.52,449.22 L143.92,450.14 L144.31,451.06 L144.70,451.98 L145.08,452.91 L145.44,453.83 L145.77,454.77 L146.08,455.72 L146.35,456.68 L146.60,457.65 L146.84,458.62 L147.07,459.59 L147.32,460.56 L147.58,461.52 L147.86,462.48 L148.16,463.43 L148.47,464.38 L148.79,465.33 L149.13,466.27 L149.48,467.21 L149.84,468.13 L150.23,469.06 L150.63,469.97 L151.02,470.89 L151.40,471.81 L151.76,472.74 L152.09,473.68 L152.39,474.63 L152.68,475.58 L152.98,476.53 L153.33,477.45 L153.73,478.34 L154.21,479.20 L154.75,480.02 L155.34,480.82 L155.96,481.59 L156.61,482.35 L157.30,483.07 L158.01,483.76 L158.75,484.42 L159.52,485.04 L160.33,485.59 L161.17,486.08 L162.06,486.48 L162.98,486.81 L163.93,487.09 L164.89,487.34 L165.86,487.59 L166.82,487.82 L167.76,488.05 L168.67,488.28 L169.56,488.49 L170.00,488.60" fill="none" stroke="#3a10f2" stroke-width="2.6" stroke-linecap="round" stroke-linejoin="round" />
<g fill="#3a10f2"><circle cx="68.12" cy="393.81" r="1.95"/><circle cx="67.87" cy="395.48" r="1.95"/><circle cx="69.28" cy="398.05" r="1.95"/><circle cx="70.82" cy="399.32" r="1.95"/><circle cx="72.73" cy="400.74" r="1.95"/><circle cx="74.74" cy="401.52" r="1.95"/><circle cx="76.72" cy="402.65" r="1.95"/><circle cx="79.05" cy="403.96" r="1.95"/><circle cx="81.34" cy="404.50" r="1.95"/><circle cx="83.12" cy="405.17" r="1.95"/><circle cx="84.96" cy="405.86" r="1.95"/><circle cx="87.40" cy="406.93" r="1.95"/><circle cx="89.47" cy="408.19" r="1.95"/><circle cx="91.70" cy="408.82" r="1.95"/><circle cx="93.63" cy="409.31" r="1.95"/><circle cx="95.82" cy="410.28" r="1.95"/><circle cx="98.04" cy="411.83" r="1.95"/><circle cx="100.22" cy="412.26" r="1.95"/><circle cx="102.44" cy="413.71" r="1.95"/><circle cx="104.39" cy="414.81" r="1.95"/><circle cx="106.46" cy="415.77" r="1.95"/><circle cx="108.20" cy="417.00" r="1.95"/><circle cx="110.62" cy="417.57" r="1.95"/><circle cx="112.45" cy="419.14" r="1.95"/><circle cx="114.22" cy="420.18" r="1.95"/><circle cx="116.21" cy="421.65" r="1.95"/><circle cx="118.15" cy="422.83" r="1.95"/><circle cx="119.91" cy="424.22" r="1.95"/><circle cx="122.11" cy="425.32" r="1.95"/><circle cx="123.75" cy="426.98" r="1.95"/><circle cx="125.78" cy="427.94" r="1.95"/><circle cx="127.37" cy="429.06" r="1.95"/><circle cx="129.64" cy="430.20" r="1.95"/><circle cx="131.64" cy="431.62" r="1.95"/><circle cx="133.38" cy="433.16" r="1.95"/><circle cx="135.05" cy="435.05" r="1.95"/><circle cx="136.28" cy="436.62" r="1.95"/><circle cx="137.84" cy="438.45" r="1.95"/><circle cx="138.98" cy="440.03" r="1.95"/><circle cx="140.33" cy="442.49" r="1.95"/><circle cx="141.42" cy="443.95" r="1.95"/><circle cx="142.50" cy="446.51" r="1.95"/><circle cx="143.48" cy="448.24" r="1.95"/><circle cx="144.27" cy="450.26" r="1.95"/><circle cx="145.10" cy="452.53" r="1.95"/><circle cx="145.61" cy="455.11" r="1.95"/><circle cx="146.17" cy="457.07" r="1.95"/><circle cx="147.25" cy="459.10" r="1.95"/><circle cx="147.38" cy="461.77" r="1.95"/><circle cx="148.20" cy="463.86" r="1.95"/><circle cx="148.66" cy="465.79" r="1.95"/><circle cx="149.58" cy="468.16" r="1.95"/><circle cx="150.41" cy="470.47" r="1.95"/><circle cx="151.25" cy="472.44" r="1.95"/><circle cx="152.00" cy="474.28" r="1.95"/><circle cx="153.25" cy="476.40" r="1.95"/><circle cx="153.73" cy="478.88" r="1.95"/><circle cx="155.14" cy="480.34" r="1.95"/><circle cx="157.03" cy="482.19" r="1.95"/><circle cx="158.00" cy="483.94" r="1.95"/><circle cx="160.21" cy="485.63" r="1.95"/><circle cx="161.90" cy="486.41" r="1.95"/><circle cx="164.04" cy="487.17" r="1.95"/><circle cx="166.78" cy="487.94" r="1.95"/><circle cx="169.11" cy="488.49" r="1.95"/></g>
<path d="M67.80,375.30 L68.67,375.80 L69.54,376.29 L70.41,376.77 L71.29,377.25 L72.18,377.70 L73.08,378.12 L74.00,378.51 L74.93,378.87 L75.87,379.22 L76.80,379.56 L77.74,379.91 L78.67,380.27 L79.58,380.66 L80.48,381.09 L81.36,381.56 L82.22,382.06 L83.07,382.58 L83.92,383.11 L84.76,383.64 L85.61,384.17 L86.46,384.71 L87.31,385.23 L88.16,385.75 L89.02,386.26 L89.89,386.76 L90.76,387.25 L91.63,387.74 L92.50,388.23 L93.37,388.73 L94.24,389.22 L95.11,389.72 L95.97,390.22 L96.83,390.74 L97.68,391.26 L98.52,391.80 L99.36,392.34 L100.20,392.88 L101.04,393.43 L101.88,393.97 L102.72,394.52 L103.55,395.06 L104.39,395.61 L105.23,396.16 L106.06,396.71 L106.89,397.27 L107.71,397.84 L108.53,398.42 L109.33,399.01 L110.14,399.60 L110.94,400.20 L111.74,400.80 L112.54,401.39 L113.34,401.99 L114.14,402.60 L114.93,403.21 L115.71,403.83 L116.48,404.47 L117.23,405.13 L117.97,405.80 L118.70,406.48 L119.43,407.17 L120.15,407.85 L120.88,408.54 L121.61,409.23 L122.33,409.92 L123.06,410.61 L123.78,411.29 L124.51,411.98 L125.24,412.67 L125.96,413.36 L126.69,414.04 L127.41,414.73 L128.14,415.42 L128.87,416.11 L129.59,416.80 L130.30,417.50 L131.01,418.20 L131.70,418.92 L132.38,419.66 L133.05,420.40 L133.71,421.15 L134.37,421.90 L135.03,422.65 L135.69,423.41 L136.34,424.16 L137.00,424.92 L137.65,425.67 L138.29,426.44 L138.92,427.22 L139.53,428.01 L140.13,428.81 L140.72,429.61 L141.30,430.43 L141.88,431.24 L142.46,432.05 L143.03,432.87 L143.59,433.70 L144.12,434.55 L144.62,435.41 L145.08,436.29 L145.53,437.18 L145.95,438.08 L146.37,438.99 L146.77,439.91 L147.17,440.82 L147.56,441.75 L147.93,442.67 L148.30,443.60 L148.66,444.53 L149.02,445.47 L149.39,446.40 L149.75,447.33 L150.11,448.26 L150.48,449.19 L150.84,450.12 L151.21,451.05 L151.55,451.99 L151.89,452.93 L152.20,453.88 L152.49,454.84 L152.77,455.79 L153.05,456.76 L153.31,457.72 L153.58,458.69 L153.84,459.65 L154.09,460.62 L154.34,461.58 L154.58,462.55 L154.81,463.53 L155.01,464.51 L155.19,465.49 L155.36,466.47 L155.53,467.46 L155.70,468.44 L155.88,469.42 L156.09,470.40 L156.32,471.37 L156.56,472.34 L156.82,473.30 L157.09,474.27 L157.36,475.23 L157.64,476.19 L157.91,477.15 L158.20,478.11 L158.48,479.07 L158.78,480.02 L159.09,480.97 L159.42,481.91 L159.78,482.84 L160.16,483.75 L160.60,484.62 L161.11,485.44 L161.71,486.19 L162.40,486.87 L163.15,487.48 L163.96,488.02 L164.81,488.48 L165.71,488.84 L166.64,489.12 L167.60,489.33 L168.58,489.50 L169.56,489.65 L170.54,489.79 L171.51,489.93 L172.00,490.00" fill="none" stroke="#ff1414" stroke-width="2.6" stroke-linecap="round" stroke-linejoin="round" />
<g fill="#ff1414"><circle cx="67.62" cy="375.33" r="1.95"/><circle cx="69.71" cy="376.51" r="1.95"/><circle cx="71.92" cy="377.22" r="1.95"/><circle cx="73.58" cy="378.71" r="1.95"/><circle cx="75.90" cy="379.11" r="1.95"/><circle cx="78.57" cy="380.07" r="1.95"/><circle cx="80.57" cy="381.00" r="1.95"/><circle cx="82.44" cy="381.89" r="1.95"/><circle cx="84.39" cy="383.60" r="1.95"/><circle cx="86.26" cy="384.74" r="1.95"/><circle cx="88.32" cy="385.47" r="1.95"/><circle cx="90.37" cy="386.99" r="1.95"/><circle cx="92.05" cy="387.73" r="1.95"/><circle cx="94.45" cy="389.18" r="1.95"/><circle cx="96.34" cy="390.61" r="1.95"/><circle cx="98.29" cy="391.85" r="1.95"/><circle cx="100.00" cy="393.01" r="1.95"/><circle cx="101.96" cy="394.36" r="1.95"/><circle cx="104.20" cy="395.03" r="1.95"/><circle cx="105.60" cy="396.38" r="1.95"/><circle cx="108.08" cy="397.83" r="1.95"/><circle cx="109.71" cy="399.08" r="1.95"/><circle cx="111.47" cy="400.51" r="1.95"/><circle cx="113.20" cy="402.03" r="1.95"/><circle cx="115.19" cy="403.65" r="1.95"/><circle cx="117.02" cy="405.14" r="1.95"/><circle cx="118.85" cy="406.73" r="1.95"/><circle cx="120.39" cy="407.73" r="1.95"/><circle cx="122.19" cy="409.87" r="1.95"/><circle cx="123.89" cy="411.18" r="1.95"/><circle cx="125.43" cy="412.51" r="1.95"/><circle cx="127.18" cy="414.34" r="1.95"/><circle cx="128.47" cy="415.57" r="1.95"/><circle cx="130.52" cy="417.81" r="1.95"/><circle cx="131.59" cy="419.33" r="1.95"/><circle cx="133.36" cy="420.58" r="1.95"/><circle cx="134.79" cy="422.74" r="1.95"/><circle cx="136.71" cy="423.97" r="1.95"/><circle cx="138.03" cy="425.71" r="1.95"/><circle cx="139.54" cy="427.71" r="1.95"/><circle cx="141.03" cy="430.01" r="1.95"/><circle cx="142.10" cy="431.89" r="1.95"/><circle cx="143.27" cy="433.14" r="1.95"/><circle cx="144.68" cy="435.07" r="1.95"/><circle cx="145.44" cy="437.38" r="1.95"/><circle cx="146.69" cy="439.29" r="1.95"/><circle cx="147.20" cy="441.90" r="1.95"/><circle cx="148.24" cy="444.10" r="1.95"/><circle cx="149.48" cy="445.84" r="1.95"/><circle cx="150.01" cy="448.08" r="1.95"/><circle cx="150.98" cy="450.28" r="1.95"/><circle cx="151.73" cy="452.45" r="1.95"/><circle cx="152.71" cy="454.55" r="1.95"/><circle cx="153.00" cy="456.91" r="1.95"/><circle cx="153.47" cy="458.84" r="1.95"/><circle cx="154.58" cy="461.21" r="1.95"/><circle cx="154.82" cy="463.09" r="1.95"/><circle cx="155.17" cy="465.75" r="1.95"/><circle cx="155.28" cy="468.04" r="1.95"/><circle cx="156.14" cy="469.91" r="1.95"/><circle cx="156.68" cy="472.43" r="1.95"/><circle cx="157.33" cy="474.56" r="1.95"/><circle cx="157.98" cy="477.05" r="1.95"/><circle cx="158.15" cy="478.78" r="1.95"/><circle cx="159.32" cy="481.60" r="1.95"/><circle cx="159.84" cy="483.39" r="1.95"/><circle cx="161.18" cy="485.31" r="1.95"/><circle cx="162.59" cy="486.98" r="1.95"/><circle cx="164.51" cy="488.44" r="1.95"/><circle cx="166.62" cy="489.06" r="1.95"/><circle cx="169.21" cy="489.24" r="1.95"/><circle cx="171.34" cy="490.06" r="1.95"/></g>
<circle cx="250.8" cy="499.8" r="2.0" fill="#00b36b"/>
<line x1="250.8" y1="493" x2="250.8" y2="499" stroke="#00b36b" stroke-width="1.3" />
<path d="M68.10,453.30 L68.21,454.29 L68.33,455.29 L68.45,456.28 L68.60,457.26 L68.79,458.24 L69.03,459.20 L69.34,460.14 L69.72,461.03 L70.20,461.83 L70.82,462.50 L71.59,463.01 L72.46,463.43 L73.39,463.78 L74.33,464.10 L75.29,464.39 L76.25,464.66 L77.22,464.91 L78.19,465.16 L79.16,465.40 L80.12,465.65 L81.09,465.90 L82.06,466.16 L83.02,466.43 L83.98,466.71 L84.94,467.00 L85.89,467.30 L86.85,467.60 L87.80,467.90 L88.75,468.20 L89.70,468.51 L90.65,468.84 L91.58,469.19 L92.51,469.57 L93.43,469.96 L94.34,470.35 L95.26,470.75 L96.18,471.15 L97.10,471.54 L98.02,471.94 L98.94,472.32 L99.87,472.69 L100.80,473.05 L101.74,473.41 L102.67,473.76 L103.61,474.11 L104.54,474.46 L105.48,474.81 L106.42,475.17 L107.35,475.53 L108.27,475.91 L109.19,476.30 L110.11,476.69 L111.03,477.09 L111.95,477.49 L112.86,477.88 L113.78,478.29 L114.69,478.71 L115.58,479.15 L116.44,479.64 L117.29,480.16 L118.13,480.71 L118.96,481.27 L119.79,481.83 L120.62,482.38 L121.46,482.93 L122.31,483.45 L123.17,483.95 L124.05,484.43 L124.93,484.91 L125.81,485.38 L126.69,485.85 L127.58,486.30 L128.48,486.71 L129.40,487.03 L130.35,487.25 L131.33,487.37 L132.32,487.45 L133.32,487.52 L134.32,487.59 L135.31,487.68 L136.31,487.78 L137.30,487.90 L138.29,488.03 L139.28,488.16 L140.27,488.29 L141.27,488.41 L142.26,488.54 L143.25,488.67 L144.24,488.78 L145.24,488.87 L146.23,488.95 L147.23,489.01 L148.23,489.06 L149.23,489.11 L150.23,489.16 L151.23,489.21 L152.23,489.26 L153.22,489.31 L154.22,489.36 L155.22,489.42 L156.22,489.47 L157.22,489.53 L158.22,489.59 L159.21,489.65 L160.21,489.71 L161.21,489.77 L162.20,489.83 L163.17,489.89 L164.10,489.95 L165.00,490.00 L165.00,490.00" fill="none" stroke="#e68a0c" stroke-width="2.6" stroke-linecap="round" stroke-linejoin="round" />
<g fill="#e68a0c"><circle cx="67.89" cy="452.98" r="1.95"/><circle cx="68.28" cy="455.31" r="1.95"/><circle cx="68.36" cy="457.78" r="1.95"/><circle cx="69.65" cy="460.31" r="1.95"/><circle cx="70.62" cy="461.86" r="1.95"/><circle cx="72.33" cy="463.18" r="1.95"/><circle cx="74.20" cy="463.83" r="1.95"/><circle cx="76.44" cy="465.11" r="1.95"/><circle cx="79.16" cy="465.58" r="1.95"/><circle cx="81.37" cy="465.66" r="1.95"/><circle cx="83.19" cy="466.62" r="1.95"/><circle cx="85.73" cy="467.48" r="1.95"/><circle cx="88.04" cy="467.55" r="1.95"/><circle cx="90.01" cy="468.72" r="1.95"/><circle cx="92.09" cy="469.13" r="1.95"/><circle cx="94.18" cy="469.96" r="1.95"/><circle cx="96.66" cy="471.50" r="1.95"/><circle cx="98.46" cy="471.95" r="1.95"/><circle cx="100.89" cy="473.02" r="1.95"/><circle cx="103.02" cy="474.05" r="1.95"/><circle cx="104.87" cy="474.51" r="1.95"/><circle cx="107.09" cy="475.35" r="1.95"/><circle cx="108.87" cy="476.12" r="1.95"/><circle cx="111.50" cy="476.82" r="1.95"/><circle cx="113.00" cy="478.20" r="1.95"/><circle cx="115.27" cy="479.11" r="1.95"/><circle cx="117.40" cy="480.12" r="1.95"/><circle cx="119.73" cy="481.28" r="1.95"/><circle cx="121.18" cy="482.56" r="1.95"/><circle cx="123.33" cy="483.80" r="1.95"/><circle cx="125.13" cy="485.28" r="1.95"/><circle cx="127.14" cy="486.20" r="1.95"/><circle cx="129.73" cy="486.71" r="1.95"/><circle cx="131.32" cy="487.19" r="1.95"/><circle cx="134.18" cy="487.65" r="1.95"/><circle cx="136.04" cy="487.64" r="1.95"/><circle cx="138.28" cy="488.03" r="1.95"/><circle cx="140.45" cy="488.51" r="1.95"/><circle cx="143.41" cy="489.01" r="1.95"/><circle cx="145.57" cy="489.25" r="1.95"/><circle cx="147.29" cy="488.86" r="1.95"/><circle cx="150.35" cy="489.37" r="1.95"/><circle cx="152.20" cy="489.62" r="1.95"/><circle cx="154.67" cy="489.64" r="1.95"/><circle cx="156.70" cy="489.27" r="1.95"/><circle cx="159.12" cy="489.36" r="1.95"/><circle cx="161.36" cy="490.16" r="1.95"/><circle cx="163.62" cy="489.53" r="1.95"/></g>
<polyline points="160.0,492.0 161.8,492.4 163.6,490.4 165.4,492.9 167.2,490.5 169.0,491.9 170.8,490.2 172.6,492.2 174.4,490.4 176.2,492.0 178.0,492.1 179.8,492.2 181.6,491.2 183.4,492.5 185.2,492.9 187.0,490.2 188.8,491.5 190.6,492.8 192.4,492.1 194.2,491.2 196.0,490.8 197.8,492.8 199.6,490.2 201.4,492.2 203.2,492.4 205.0,490.4 206.8,490.9 208.6,490.8 210.4,491.5 212.2,491.0 214.0,492.6 215.8,492.7 217.6,490.8 219.4,492.6 221.2,490.1 223.0,490.2 224.8,491.9 226.6,492.3 228.4,492.4 230.2,492.9 232.0,492.5 233.8,490.7 235.6,492.1 237.4,492.7 239.2,490.2 241.0,491.4 242.8,490.4 244.6,490.3 246.4,491.3 248.2,491.9 250.0,492.8 251.8,490.3 253.6,491.4 255.4,492.9 257.2,492.2 259.0,491.5 260.8,490.6 262.6,491.8 264.4,490.7 266.2,491.8 268.0,491.8 269.8,491.1 271.6,492.3 273.4,491.1 275.2,491.3 277.0,492.4 278.8,490.7" fill="none" stroke="#e68a0c" stroke-width="4.4" stroke-linejoin="round" stroke-linecap="round"/>
</g>
<rect x="67" y="26.8" width="212.5" height="477.5" fill="none" stroke="#111" stroke-width="1.15"/>
<line x1="67" y1="186.3" x2="279" y2="186.3" stroke="#111" stroke-width="1.1" />
<line x1="67" y1="345.3" x2="279" y2="345.3" stroke="#111" stroke-width="1.1" />
<line x1="66.7" y1="26.8" x2="66.7" y2="504.3" stroke="#111" stroke-width="1.6" />
<line x1="102.33333333333334" y1="26.8" x2="102.33333333333334" y2="30.400000000000002" stroke="#111" stroke-width="1.0" />
<line x1="102.33333333333334" y1="186.3" x2="102.33333333333334" y2="182.70000000000002" stroke="#111" stroke-width="1.0" />
<line x1="102.33333333333334" y1="186.3" x2="102.33333333333334" y2="189.9" stroke="#111" stroke-width="1.0" />
<line x1="102.33333333333334" y1="345.3" x2="102.33333333333334" y2="341.7" stroke="#111" stroke-width="1.0" />
<line x1="102.33333333333334" y1="345.3" x2="102.33333333333334" y2="348.90000000000003" stroke="#111" stroke-width="1.0" />
<line x1="102.33333333333334" y1="504.3" x2="102.33333333333334" y2="500.7" stroke="#111" stroke-width="1.0" />
<line x1="137.66666666666669" y1="26.8" x2="137.66666666666669" y2="33.1" stroke="#111" stroke-width="1.0" />
<line x1="137.66666666666669" y1="186.3" x2="137.66666666666669" y2="180.0" stroke="#111" stroke-width="1.0" />
<line x1="137.66666666666669" y1="186.3" x2="137.66666666666669" y2="192.60000000000002" stroke="#111" stroke-width="1.0" />
<line x1="137.66666666666669" y1="345.3" x2="137.66666666666669" y2="339.0" stroke="#111" stroke-width="1.0" />
<line x1="137.66666666666669" y1="345.3" x2="137.66666666666669" y2="351.6" stroke="#111" stroke-width="1.0" />
<line x1="137.66666666666669" y1="504.3" x2="137.66666666666669" y2="498.0" stroke="#111" stroke-width="1.0" />
<line x1="173.0" y1="26.8" x2="173.0" y2="30.400000000000002" stroke="#111" stroke-width="1.0" />
<line x1="173.0" y1="186.3" x2="173.0" y2="182.70000000000002" stroke="#111" stroke-width="1.0" />
<line x1="173.0" y1="186.3" x2="173.0" y2="189.9" stroke="#111" stroke-width="1.0" />
<line x1="173.0" y1="345.3" x2="173.0" y2="341.7" stroke="#111" stroke-width="1.0" />
<line x1="173.0" y1="345.3" x2="173.0" y2="348.90000000000003" stroke="#111" stroke-width="1.0" />
<line x1="173.0" y1="504.3" x2="173.0" y2="500.7" stroke="#111" stroke-width="1.0" />
<line x1="208.33333333333334" y1="26.8" x2="208.33333333333334" y2="33.1" stroke="#111" stroke-width="1.0" />
<line x1="208.33333333333334" y1="186.3" x2="208.33333333333334" y2="180.0" stroke="#111" stroke-width="1.0" />
<line x1="208.33333333333334" y1="186.3" x2="208.33333333333334" y2="192.60000000000002" stroke="#111" stroke-width="1.0" />
<line x1="208.33333333333334" y1="345.3" x2="208.33333333333334" y2="339.0" stroke="#111" stroke-width="1.0" />
<line x1="208.33333333333334" y1="345.3" x2="208.33333333333334" y2="351.6" stroke="#111" stroke-width="1.0" />
<line x1="208.33333333333334" y1="504.3" x2="208.33333333333334" y2="498.0" stroke="#111" stroke-width="1.0" />
<line x1="243.66666666666666" y1="26.8" x2="243.66666666666666" y2="30.400000000000002" stroke="#111" stroke-width="1.0" />
<line x1="243.66666666666666" y1="186.3" x2="243.66666666666666" y2="182.70000000000002" stroke="#111" stroke-width="1.0" />
<line x1="243.66666666666666" y1="186.3" x2="243.66666666666666" y2="189.9" stroke="#111" stroke-width="1.0" />
<line x1="243.66666666666666" y1="345.3" x2="243.66666666666666" y2="341.7" stroke="#111" stroke-width="1.0" />
<line x1="243.66666666666666" y1="345.3" x2="243.66666666666666" y2="348.90000000000003" stroke="#111" stroke-width="1.0" />
<line x1="243.66666666666666" y1="504.3" x2="243.66666666666666" y2="500.7" stroke="#111" stroke-width="1.0" />
<line x1="67" y1="52.8" x2="73.5" y2="52.8" stroke="#111" stroke-width="1.0" />
<line x1="279" y1="52.8" x2="273" y2="52.8" stroke="#111" stroke-width="1.0" />
<line x1="67" y1="97.3" x2="73.5" y2="97.3" stroke="#111" stroke-width="1.0" />
<line x1="279" y1="97.3" x2="273" y2="97.3" stroke="#111" stroke-width="1.0" />
<line x1="67" y1="141.8" x2="73.5" y2="141.8" stroke="#111" stroke-width="1.0" />
<line x1="279" y1="141.8" x2="273" y2="141.8" stroke="#111" stroke-width="1.0" />
<line x1="67" y1="200.4" x2="73.5" y2="200.4" stroke="#111" stroke-width="1.0" />
<line x1="279" y1="200.4" x2="273" y2="200.4" stroke="#111" stroke-width="1.0" />
<line x1="67" y1="229.3" x2="73.5" y2="229.3" stroke="#111" stroke-width="1.0" />
<line x1="279" y1="229.3" x2="273" y2="229.3" stroke="#111" stroke-width="1.0" />
<line x1="67" y1="258.1" x2="73.5" y2="258.1" stroke="#111" stroke-width="1.0" />
<line x1="279" y1="258.1" x2="273" y2="258.1" stroke="#111" stroke-width="1.0" />
<line x1="67" y1="316.3" x2="73.5" y2="316.3" stroke="#111" stroke-width="1.0" />
<line x1="279" y1="316.3" x2="273" y2="316.3" stroke="#111" stroke-width="1.0" />
<line x1="67" y1="385.0" x2="73.5" y2="385.0" stroke="#111" stroke-width="1.0" />
<line x1="279" y1="385.0" x2="273" y2="385.0" stroke="#111" stroke-width="1.0" />
<line x1="67" y1="411.7" x2="73.5" y2="411.7" stroke="#111" stroke-width="1.0" />
<line x1="279" y1="411.7" x2="273" y2="411.7" stroke="#111" stroke-width="1.0" />
<line x1="67" y1="438.4" x2="73.5" y2="438.4" stroke="#111" stroke-width="1.0" />
<line x1="279" y1="438.4" x2="273" y2="438.4" stroke="#111" stroke-width="1.0" />
<line x1="67" y1="465.0" x2="73.5" y2="465.0" stroke="#111" stroke-width="1.0" />
<line x1="279" y1="465.0" x2="273" y2="465.0" stroke="#111" stroke-width="1.0" />
<line x1="67" y1="358.4" x2="73.5" y2="358.4" stroke="#111" stroke-width="1.0" />
<line x1="279" y1="358.4" x2="273" y2="358.4" stroke="#111" stroke-width="1.0" />
<text x="63" y="57.2" font-size="12" text-anchor="end" fill="#000" font-weight="normal" font-style="normal"  stroke="#000" stroke-width="0.22">1.5</text>
<text x="63" y="101.7" font-size="12" text-anchor="end" fill="#000" font-weight="normal" font-style="normal"  stroke="#000" stroke-width="0.22">1.0</text>
<text x="63" y="146.2" font-size="12" text-anchor="end" fill="#000" font-weight="normal" font-style="normal"  stroke="#000" stroke-width="0.22">0.5</text>
<text x="63" y="190.7" font-size="12" text-anchor="end" fill="#000" font-weight="normal" font-style="normal"  stroke="#000" stroke-width="0.22">0</text>
<text x="63" y="204.8" font-size="12" text-anchor="end" fill="#000" font-weight="normal" font-style="normal"  stroke="#000" stroke-width="0.22">0.06</text>
<text x="63" y="233.7" font-size="12" text-anchor="end" fill="#000" font-weight="normal" font-style="normal"  stroke="#000" stroke-width="0.22">0.04</text>
<text x="63" y="262.5" font-size="12" text-anchor="end" fill="#000" font-weight="normal" font-style="normal"  stroke="#000" stroke-width="0.22">0.02</text>
<text x="63" y="291.7" font-size="12" text-anchor="end" fill="#000" font-weight="normal" font-style="normal"  stroke="#000" stroke-width="0.22">0</text>
<text x="63" y="320.7" font-size="12" text-anchor="end" fill="#000" font-weight="normal" font-style="normal"  stroke="#000" stroke-width="0.22">−0.02</text>
<text x="63" y="349.5" font-size="12" text-anchor="end" fill="#000" font-weight="normal" font-style="normal"  stroke="#000" stroke-width="0.22">−0.04</text>
<text x="63" y="362.8" font-size="12" text-anchor="end" fill="#000" font-weight="normal" font-style="normal"  stroke="#000" stroke-width="0.22">1.0</text>
<text x="63" y="389.4" font-size="12" text-anchor="end" fill="#000" font-weight="normal" font-style="normal"  stroke="#000" stroke-width="0.22">0.8</text>
<text x="63" y="416.1" font-size="12" text-anchor="end" fill="#000" font-weight="normal" font-style="normal"  stroke="#000" stroke-width="0.22">0.6</text>
<text x="63" y="442.8" font-size="12" text-anchor="end" fill="#000" font-weight="normal" font-style="normal"  stroke="#000" stroke-width="0.22">0.4</text>
<text x="63" y="469.4" font-size="12" text-anchor="end" fill="#000" font-weight="normal" font-style="normal"  stroke="#000" stroke-width="0.22">0.2</text>
<text x="63" y="496.0" font-size="12" text-anchor="end" fill="#000" font-weight="normal" font-style="normal"  stroke="#000" stroke-width="0.22">0</text>
<text x="67.0" y="517.8" font-size="12" text-anchor="middle" fill="#000" font-weight="normal" font-style="normal"  stroke="#000" stroke-width="0.22">0</text>
<text x="137.67" y="517.8" font-size="12" text-anchor="middle" fill="#000" font-weight="normal" font-style="normal"  stroke="#000" stroke-width="0.22">100</text>
<text x="208.33" y="517.8" font-size="12" text-anchor="middle" fill="#000" font-weight="normal" font-style="normal"  stroke="#000" stroke-width="0.22">200</text>
<text x="279.0" y="517.8" font-size="12" text-anchor="middle" fill="#000" font-weight="normal" font-style="normal"  stroke="#000" stroke-width="0.22">300</text>
<text x="173.5" y="535.4" font-size="14.6" text-anchor="middle" stroke="#000" stroke-width="0.22"><tspan font-style="italic">T</tspan> (K)</text>
<text transform="translate(30.6,103.1) rotate(-90)" font-size="14.6" text-anchor="middle" stroke="#000" stroke-width="0.22">ρ (mΩ•cm)</text>
<text transform="translate(23.6,266.5) rotate(-90)" font-size="14.8" text-anchor="middle" stroke="#000" stroke-width="0.22">−MR = (ρ<tspan font-size="10" dy="2">0 T</tspan><tspan dy="-2"> − ρ</tspan><tspan font-size="10" dy="2">9 T</tspan><tspan dy="-2">)/ρ</tspan><tspan font-size="10" dy="2">0 T</tspan></text>
<text transform="translate(28.6,426.7) rotate(-90)" font-size="15.4" text-anchor="middle" stroke="#000" stroke-width="0.22"><tspan font-style="italic">M</tspan> (μ<tspan font-size="10" dy="2">B</tspan><tspan dy="-2">/Ru)</tspan></text>
<text x="22.6" y="40" font-size="15" text-anchor="start" fill="#000" font-weight="bold" font-style="normal"  stroke="#000" stroke-width="0.22">A</text>
<text x="110" y="92" font-size="15" stroke="#000" stroke-width="0.22"><tspan font-style="italic">m</tspan> = <tspan fill="#e68a0c" stroke="#e68a0c">4</tspan></text>
<text x="177.3" y="128.6" font-size="15" text-anchor="middle" fill="#00b36b" font-weight="normal" font-style="normal"  stroke="#00b36b" stroke-width="0.22">5</text>
<text x="204.2" y="144.4" font-size="15" text-anchor="middle" fill="#3a10f2" font-weight="normal" font-style="normal"  stroke="#3a10f2" stroke-width="0.22">6</text>
<text x="230.1" y="162.4" font-size="15" text-anchor="middle" fill="#ff1414" font-weight="normal" font-style="normal"  stroke="#ff1414" stroke-width="0.22">7</text>
<text x="133.5" y="222.9" font-size="15" text-anchor="middle" fill="#00b36b" font-weight="normal" font-style="normal"  stroke="#00b36b" stroke-width="0.22">5</text>
<text x="149.9" y="211.4" font-size="15" text-anchor="middle" fill="#3a10f2" font-weight="normal" font-style="normal"  stroke="#3a10f2" stroke-width="0.22">6</text>
<text x="168.3" y="207.8" font-size="15" text-anchor="middle" fill="#ff1414" font-weight="normal" font-style="normal"  stroke="#ff1414" stroke-width="0.22">7</text>
<text x="120" y="278.3" font-size="15" text-anchor="middle" fill="#e68a0c" font-weight="normal" font-style="normal"  stroke="#e68a0c" stroke-width="0.22">4</text>
<text x="88.8" y="377.5" font-size="15" text-anchor="middle" fill="#ff1414" font-weight="normal" font-style="normal"  stroke="#ff1414" stroke-width="0.22">7</text>
<text x="83.6" y="401.0" font-size="15" text-anchor="middle" fill="#3a10f2" font-weight="normal" font-style="normal"  stroke="#3a10f2" stroke-width="0.22">6</text>
<text x="78.7" y="437.7" font-size="15" text-anchor="middle" fill="#00b36b" font-weight="normal" font-style="normal"  stroke="#00b36b" stroke-width="0.22">5</text>
<text x="75.4" y="486.0" font-size="15" text-anchor="middle" fill="#e68a0c" font-weight="normal" font-style="normal"  stroke="#e68a0c" stroke-width="0.22">4</text>
<text x="317.4" y="40" font-size="15" text-anchor="start" fill="#000" font-weight="bold" font-style="normal"  stroke="#000" stroke-width="0.22">B</text>
<defs><filter id="skyblur" x="-10%" y="-10%" width="120%" height="120%"><feGaussianBlur stdDeviation="0.4"/></filter></defs>
<rect x="356" y="26" width="106" height="80" fill="#f9f9f9"/><rect x="498" y="25" width="108" height="81" fill="#f9f9f9"/>
<g filter="url(#skyblur)" stroke-linecap="round">
<line x1="411.3" y1="63.8" x2="411.3" y2="68.3" stroke="#3d7db4" stroke-width="1.6"/>
<path d="M411.3,68.9 L409.9,66.1 L412.7,66.1 Z" fill="#3d7db4"/>
<line x1="407.5" y1="70.7" x2="403.0" y2="70.6" stroke="#3d7db4" stroke-width="1.6"/>
<path d="M402.4,70.6 L405.2,69.3 L405.2,72.1 Z" fill="#3d7db4"/>
<line x1="399.4" y1="68.1" x2="399.5" y2="63.6" stroke="#3d7db4" stroke-width="1.6"/>
<path d="M399.5,63.0 L400.8,65.9 L398.0,65.8 Z" fill="#3d7db4"/>
<line x1="403.3" y1="61.2" x2="407.8" y2="61.4" stroke="#3d7db4" stroke-width="1.6"/>
<path d="M408.4,61.4 L405.6,62.7 L405.7,59.9 Z" fill="#3d7db4"/>
<line x1="420.6" y1="66.5" x2="419.1" y2="71.8" stroke="#6aae9e" stroke-width="1.6"/>
<path d="M419.0,72.3 L418.4,69.3 L421.1,70.0 Z" fill="#6aae9e"/>
<line x1="416.8" y1="74.4" x2="412.1" y2="77.1" stroke="#6aae9e" stroke-width="1.6"/>
<path d="M411.5,77.4 L413.2,74.8 L414.7,77.2 Z" fill="#6aae9e"/>
<line x1="408.8" y1="77.9" x2="403.3" y2="78.0" stroke="#6aae9e" stroke-width="1.6"/>
<path d="M402.7,78.0 L405.5,76.6 L405.5,79.4 Z" fill="#6aae9e"/>
<line x1="398.7" y1="76.7" x2="394.1" y2="73.6" stroke="#6aae9e" stroke-width="1.6"/>
<path d="M393.6,73.2 L396.7,73.7 L395.1,76.0 Z" fill="#6aae9e"/>
<line x1="392.0" y1="70.7" x2="391.2" y2="65.2" stroke="#6aae9e" stroke-width="1.6"/>
<path d="M391.1,64.6 L392.9,67.2 L390.1,67.6 Z" fill="#6aae9e"/>
<line x1="392.0" y1="62.8" x2="395.4" y2="58.5" stroke="#6aae9e" stroke-width="1.6"/>
<path d="M395.8,58.0 L395.2,61.1 L393.0,59.3 Z" fill="#6aae9e"/>
<line x1="399.1" y1="56.5" x2="404.4" y2="55.2" stroke="#6aae9e" stroke-width="1.6"/>
<path d="M405.0,55.1 L402.6,57.1 L402.0,54.3 Z" fill="#6aae9e"/>
<line x1="408.1" y1="55.3" x2="413.4" y2="56.8" stroke="#6aae9e" stroke-width="1.6"/>
<path d="M413.9,56.9 L410.9,57.5 L411.6,54.8 Z" fill="#6aae9e"/>
<line x1="416.9" y1="59.0" x2="420.0" y2="63.5" stroke="#6aae9e" stroke-width="1.6"/>
<path d="M420.4,64.0 L417.6,62.5 L419.9,60.9 Z" fill="#6aae9e"/>
<line x1="429.6" y1="63.8" x2="429.8" y2="70.3" stroke="#b4c470" stroke-width="1.6"/>
<path d="M429.8,70.9 L428.3,68.1 L431.1,68.0 Z" fill="#b4c470"/>
<line x1="429.0" y1="72.6" x2="425.6" y2="78.2" stroke="#b4c470" stroke-width="1.6"/>
<path d="M425.3,78.7 L425.6,75.5 L428.0,77.0 Z" fill="#b4c470"/>
<line x1="423.6" y1="80.1" x2="418.0" y2="83.5" stroke="#b4c470" stroke-width="1.6"/>
<path d="M417.5,83.8 L419.2,81.1 L420.7,83.5 Z" fill="#b4c470"/>
<line x1="415.6" y1="84.4" x2="409.3" y2="85.8" stroke="#b4c470" stroke-width="1.6"/>
<path d="M408.7,85.9 L411.1,83.9 L411.7,86.7 Z" fill="#b4c470"/>
<line x1="405.0" y1="85.9" x2="398.5" y2="84.8" stroke="#b4c470" stroke-width="1.6"/>
<path d="M397.9,84.7 L400.9,83.8 L400.5,86.6 Z" fill="#b4c470"/>
<line x1="395.0" y1="83.6" x2="389.4" y2="80.2" stroke="#b4c470" stroke-width="1.6"/>
<path d="M388.9,79.9 L392.1,80.2 L390.6,82.6 Z" fill="#b4c470"/>
<line x1="386.7" y1="77.6" x2="383.5" y2="71.9" stroke="#b4c470" stroke-width="1.6"/>
<path d="M383.2,71.4 L385.8,73.2 L383.4,74.5 Z" fill="#b4c470"/>
<line x1="383.1" y1="70.2" x2="383.2" y2="63.7" stroke="#b4c470" stroke-width="1.6"/>
<path d="M383.3,63.1 L384.6,66.0 L381.8,65.9 Z" fill="#b4c470"/>
<line x1="383.6" y1="62.7" x2="386.8" y2="57.1" stroke="#b4c470" stroke-width="1.6"/>
<path d="M387.1,56.5 L386.9,59.7 L384.5,58.3 Z" fill="#b4c470"/>
<line x1="389.6" y1="54.4" x2="395.1" y2="51.1" stroke="#b4c470" stroke-width="1.6"/>
<path d="M395.6,50.8 L394.0,53.4 L392.5,51.0 Z" fill="#b4c470"/>
<line x1="397.4" y1="50.3" x2="403.8" y2="49.0" stroke="#b4c470" stroke-width="1.6"/>
<path d="M404.4,48.9 L401.9,50.8 L401.3,48.1 Z" fill="#b4c470"/>
<line x1="408.6" y1="48.9" x2="415.0" y2="50.1" stroke="#b4c470" stroke-width="1.6"/>
<path d="M415.6,50.3 L412.6,51.1 L413.1,48.4 Z" fill="#b4c470"/>
<line x1="417.6" y1="51.1" x2="423.2" y2="54.4" stroke="#b4c470" stroke-width="1.6"/>
<path d="M423.7,54.7 L420.6,54.5 L422.0,52.0 Z" fill="#b4c470"/>
<line x1="425.1" y1="56.1" x2="428.8" y2="61.5" stroke="#b4c470" stroke-width="1.6"/>
<path d="M429.1,62.0 L426.4,60.4 L428.7,58.9 Z" fill="#b4c470"/>
<line x1="439.8" y1="70.6" x2="437.8" y2="77.4" stroke="#dcac62" stroke-width="1.6"/>
<path d="M437.6,77.9 L437.1,74.8 L439.8,75.6 Z" fill="#dcac62"/>
<line x1="437.6" y1="77.8" x2="433.5" y2="83.5" stroke="#dcac62" stroke-width="1.6"/>
<path d="M433.2,84.0 L433.6,80.9 L435.9,82.5 Z" fill="#dcac62"/>
<line x1="431.7" y1="85.3" x2="426.0" y2="89.3" stroke="#dcac62" stroke-width="1.6"/>
<path d="M425.5,89.7 L426.9,86.9 L428.6,89.2 Z" fill="#dcac62"/>
<line x1="421.3" y1="91.5" x2="414.5" y2="93.3" stroke="#dcac62" stroke-width="1.6"/>
<path d="M413.9,93.5 L416.3,91.4 L417.0,94.1 Z" fill="#dcac62"/>
<line x1="411.1" y1="93.8" x2="404.1" y2="93.9" stroke="#dcac62" stroke-width="1.6"/>
<path d="M403.5,93.9 L406.3,92.5 L406.3,95.3 Z" fill="#dcac62"/>
<line x1="401.8" y1="93.7" x2="395.0" y2="92.2" stroke="#dcac62" stroke-width="1.6"/>
<path d="M394.4,92.1 L397.4,91.3 L396.8,94.1 Z" fill="#dcac62"/>
<line x1="390.2" y1="90.4" x2="384.2" y2="86.8" stroke="#dcac62" stroke-width="1.6"/>
<path d="M383.7,86.5 L386.8,86.8 L385.4,89.2 Z" fill="#dcac62"/>
<line x1="382.8" y1="85.8" x2="378.1" y2="80.6" stroke="#dcac62" stroke-width="1.6"/>
<path d="M377.7,80.1 L380.6,81.3 L378.5,83.2 Z" fill="#dcac62"/>
<line x1="376.8" y1="78.6" x2="374.4" y2="72.0" stroke="#dcac62" stroke-width="1.6"/>
<path d="M374.2,71.4 L376.5,73.6 L373.8,74.6 Z" fill="#dcac62"/>
<line x1="374.3" y1="71.4" x2="374.4" y2="64.4" stroke="#dcac62" stroke-width="1.6"/>
<path d="M374.4,63.8 L375.7,66.6 L372.9,66.5 Z" fill="#dcac62"/>
<line x1="375.2" y1="61.2" x2="378.6" y2="55.0" stroke="#dcac62" stroke-width="1.6"/>
<path d="M378.8,54.5 L378.7,57.6 L376.3,56.3 Z" fill="#dcac62"/>
<line x1="379.6" y1="53.7" x2="384.8" y2="49.0" stroke="#dcac62" stroke-width="1.6"/>
<path d="M385.3,48.6 L384.1,51.5 L382.2,49.4 Z" fill="#dcac62"/>
<line x1="387.9" y1="47.0" x2="394.3" y2="44.2" stroke="#dcac62" stroke-width="1.6"/>
<path d="M394.9,44.0 L392.9,46.4 L391.8,43.8 Z" fill="#dcac62"/>
<line x1="397.6" y1="43.3" x2="404.5" y2="42.3" stroke="#dcac62" stroke-width="1.6"/>
<path d="M405.1,42.2 L402.6,44.0 L402.2,41.3 Z" fill="#dcac62"/>
<line x1="406.8" y1="42.3" x2="413.8" y2="42.8" stroke="#dcac62" stroke-width="1.6"/>
<path d="M414.4,42.9 L411.5,44.0 L411.7,41.2 Z" fill="#dcac62"/>
<line x1="417.5" y1="43.6" x2="424.1" y2="46.0" stroke="#dcac62" stroke-width="1.6"/>
<path d="M424.7,46.2 L421.5,46.6 L422.5,44.0 Z" fill="#dcac62"/>
<line x1="426.5" y1="47.3" x2="432.1" y2="51.4" stroke="#dcac62" stroke-width="1.6"/>
<path d="M432.6,51.8 L429.5,51.2 L431.2,49.0 Z" fill="#dcac62"/>
<line x1="433.8" y1="53.1" x2="437.8" y2="58.9" stroke="#dcac62" stroke-width="1.6"/>
<path d="M438.1,59.4 L435.4,57.9 L437.7,56.3 Z" fill="#dcac62"/>
<line x1="438.5" y1="60.5" x2="439.9" y2="67.3" stroke="#dcac62" stroke-width="1.6"/>
<path d="M440.1,67.9 L438.1,65.5 L440.8,64.9 Z" fill="#dcac62"/>
<line x1="450.8" y1="65.1" x2="448.5" y2="71.7" stroke="#c87862" stroke-width="1.6"/>
<path d="M448.3,72.3 L447.9,69.1 L450.5,70.1 Z" fill="#c87862"/>
<line x1="450.4" y1="74.7" x2="446.0" y2="80.1" stroke="#c87862" stroke-width="1.6"/>
<path d="M445.7,80.6 L446.3,77.5 L448.5,79.3 Z" fill="#c87862"/>
<line x1="448.0" y1="81.6" x2="442.4" y2="85.8" stroke="#c87862" stroke-width="1.6"/>
<path d="M441.9,86.2 L443.3,83.4 L445.0,85.6 Z" fill="#c87862"/>
<line x1="441.1" y1="90.8" x2="434.5" y2="93.1" stroke="#c87862" stroke-width="1.6"/>
<path d="M433.9,93.3 L436.1,91.0 L437.0,93.7 Z" fill="#c87862"/>
<line x1="434.0" y1="96.2" x2="427.1" y2="97.1" stroke="#c87862" stroke-width="1.6"/>
<path d="M426.5,97.2 L429.1,95.4 L429.4,98.2 Z" fill="#c87862"/>
<line x1="424.6" y1="100.6" x2="417.7" y2="100.0" stroke="#c87862" stroke-width="1.6"/>
<path d="M417.1,99.9 L420.0,98.8 L419.7,101.5 Z" fill="#c87862"/>
<line x1="412.4" y1="103.1" x2="405.8" y2="100.9" stroke="#c87862" stroke-width="1.6"/>
<path d="M405.2,100.7 L408.3,100.3 L407.4,102.9 Z" fill="#c87862"/>
<line x1="402.8" y1="103.1" x2="396.7" y2="99.8" stroke="#c87862" stroke-width="1.6"/>
<path d="M396.1,99.5 L399.3,99.6 L397.9,102.1 Z" fill="#c87862"/>
<line x1="392.9" y1="101.3" x2="387.5" y2="96.9" stroke="#c87862" stroke-width="1.6"/>
<path d="M387.0,96.5 L390.1,97.2 L388.3,99.3 Z" fill="#c87862"/>
<line x1="382.9" y1="97.3" x2="378.7" y2="91.7" stroke="#c87862" stroke-width="1.6"/>
<path d="M378.3,91.2 L381.1,92.6 L378.9,94.3 Z" fill="#c87862"/>
<line x1="374.4" y1="91.2" x2="371.8" y2="84.7" stroke="#c87862" stroke-width="1.6"/>
<path d="M371.6,84.1 L373.9,86.2 L371.3,87.3 Z" fill="#c87862"/>
<line x1="369.5" y1="85.6" x2="368.5" y2="78.7" stroke="#c87862" stroke-width="1.6"/>
<path d="M368.4,78.1 L370.2,80.7 L367.4,81.1 Z" fill="#c87862"/>
<line x1="364.8" y1="75.2" x2="366.5" y2="68.4" stroke="#c87862" stroke-width="1.6"/>
<path d="M366.6,67.8 L367.3,70.9 L364.6,70.2 Z" fill="#c87862"/>
<line x1="364.1" y1="69.1" x2="367.2" y2="62.9" stroke="#c87862" stroke-width="1.6"/>
<path d="M367.5,62.3 L367.5,65.5 L365.0,64.2 Z" fill="#c87862"/>
<line x1="366.1" y1="58.4" x2="371.4" y2="53.7" stroke="#c87862" stroke-width="1.6"/>
<path d="M371.8,53.3 L370.6,56.3 L368.8,54.2 Z" fill="#c87862"/>
<line x1="371.0" y1="50.2" x2="377.4" y2="47.2" stroke="#c87862" stroke-width="1.6"/>
<path d="M377.9,46.9 L376.0,49.4 L374.8,46.9 Z" fill="#c87862"/>
<line x1="376.1" y1="45.1" x2="382.9" y2="43.3" stroke="#c87862" stroke-width="1.6"/>
<path d="M383.5,43.1 L381.1,45.2 L380.4,42.5 Z" fill="#c87862"/>
<line x1="387.0" y1="38.5" x2="394.0" y2="38.6" stroke="#c87862" stroke-width="1.6"/>
<path d="M394.6,38.6 L391.8,40.0 L391.8,37.2 Z" fill="#c87862"/>
<line x1="395.8" y1="35.7" x2="402.7" y2="37.1" stroke="#c87862" stroke-width="1.6"/>
<path d="M403.2,37.2 L400.2,38.0 L400.8,35.3 Z" fill="#c87862"/>
<line x1="407.2" y1="34.5" x2="413.7" y2="37.2" stroke="#c87862" stroke-width="1.6"/>
<path d="M414.2,37.4 L411.1,37.6 L412.2,35.1 Z" fill="#c87862"/>
<line x1="416.0" y1="35.1" x2="421.9" y2="38.9" stroke="#c87862" stroke-width="1.6"/>
<path d="M422.4,39.2 L419.3,38.9 L420.8,36.5 Z" fill="#c87862"/>
<line x1="426.3" y1="37.8" x2="431.3" y2="42.8" stroke="#c87862" stroke-width="1.6"/>
<path d="M431.7,43.2 L428.7,42.2 L430.7,40.2 Z" fill="#c87862"/>
<line x1="435.7" y1="42.6" x2="439.3" y2="48.6" stroke="#c87862" stroke-width="1.6"/>
<path d="M439.6,49.1 L437.0,47.4 L439.3,46.0 Z" fill="#c87862"/>
<line x1="444.4" y1="50.6" x2="445.9" y2="57.4" stroke="#c87862" stroke-width="1.6"/>
<path d="M446.0,58.0 L444.0,55.6 L446.8,55.0 Z" fill="#c87862"/>
<line x1="448.1" y1="56.4" x2="448.0" y2="63.4" stroke="#c87862" stroke-width="1.6"/>
<path d="M448.0,64.0 L446.6,61.2 L449.4,61.2 Z" fill="#c87862"/>
<line x1="456.4" y1="78.2" x2="457.6" y2="71.9" stroke="#8e3c54" stroke-width="1.8"/>
<path d="M457.8,71.3 L458.6,74.3 L455.8,73.7 Z" fill="#8e3c54"/>
<line x1="452.4" y1="88.9" x2="453.6" y2="82.5" stroke="#8e3c54" stroke-width="1.8"/>
<path d="M453.7,81.9 L454.6,84.9 L451.8,84.4 Z" fill="#8e3c54"/>
<line x1="444.9" y1="98.3" x2="445.9" y2="91.8" stroke="#8e3c54" stroke-width="1.8"/>
<path d="M446.0,91.2 L447.0,94.2 L444.2,93.8 Z" fill="#8e3c54"/>
<line x1="434.4" y1="105.5" x2="435.1" y2="99.1" stroke="#8e3c54" stroke-width="1.8"/>
<path d="M435.2,98.5 L436.3,101.4 L433.5,101.1 Z" fill="#8e3c54"/>
<line x1="421.8" y1="110.2" x2="422.1" y2="103.7" stroke="#8e3c54" stroke-width="1.8"/>
<path d="M422.2,103.1 L423.4,106.0 L420.6,105.8 Z" fill="#8e3c54"/>
<line x1="408.0" y1="111.8" x2="408.0" y2="105.2" stroke="#8e3c54" stroke-width="1.8"/>
<path d="M408.0,104.7 L409.4,107.5 L406.6,107.5 Z" fill="#8e3c54"/>
<line x1="394.2" y1="110.2" x2="393.9" y2="103.7" stroke="#8e3c54" stroke-width="1.8"/>
<path d="M393.8,103.1 L395.4,105.8 L392.6,106.0 Z" fill="#8e3c54"/>
<line x1="381.6" y1="105.5" x2="380.9" y2="99.1" stroke="#8e3c54" stroke-width="1.8"/>
<path d="M380.8,98.5 L382.5,101.1 L379.7,101.4 Z" fill="#8e3c54"/>
<line x1="371.1" y1="98.3" x2="370.1" y2="91.8" stroke="#8e3c54" stroke-width="1.8"/>
<path d="M370.0,91.2 L371.8,93.8 L369.0,94.2 Z" fill="#8e3c54"/>
<line x1="363.6" y1="88.9" x2="362.4" y2="82.5" stroke="#8e3c54" stroke-width="1.8"/>
<path d="M362.3,81.9 L364.2,84.4 L361.4,84.9 Z" fill="#8e3c54"/>
<line x1="359.6" y1="78.2" x2="358.4" y2="71.9" stroke="#8e3c54" stroke-width="1.8"/>
<path d="M358.2,71.3 L360.2,73.7 L357.4,74.3 Z" fill="#8e3c54"/>
<line x1="359.6" y1="67.1" x2="358.4" y2="60.8" stroke="#8e3c54" stroke-width="1.8"/>
<path d="M358.2,60.2 L360.2,62.6 L357.4,63.2 Z" fill="#8e3c54"/>
<line x1="363.6" y1="56.5" x2="362.4" y2="50.1" stroke="#8e3c54" stroke-width="1.8"/>
<path d="M362.3,49.5 L364.2,52.0 L361.4,52.5 Z" fill="#8e3c54"/>
<line x1="371.1" y1="47.2" x2="370.1" y2="40.7" stroke="#8e3c54" stroke-width="1.8"/>
<path d="M370.0,40.2 L371.8,42.7 L369.0,43.1 Z" fill="#8e3c54"/>
<line x1="381.6" y1="39.9" x2="380.9" y2="33.5" stroke="#8e3c54" stroke-width="1.8"/>
<path d="M380.8,32.9 L382.5,35.5 L379.7,35.8 Z" fill="#8e3c54"/>
<line x1="394.2" y1="35.3" x2="393.9" y2="28.8" stroke="#8e3c54" stroke-width="1.8"/>
<path d="M393.8,28.2 L395.4,31.0 L392.6,31.1 Z" fill="#8e3c54"/>
<line x1="408.0" y1="33.8" x2="408.0" y2="27.2" stroke="#8e3c54" stroke-width="1.8"/>
<path d="M408.0,26.6 L409.4,29.4 L406.6,29.4 Z" fill="#8e3c54"/>
<line x1="421.8" y1="35.3" x2="422.1" y2="28.8" stroke="#8e3c54" stroke-width="1.8"/>
<path d="M422.2,28.2 L423.4,31.1 L420.6,31.0 Z" fill="#8e3c54"/>
<line x1="434.4" y1="39.9" x2="435.1" y2="33.5" stroke="#8e3c54" stroke-width="1.8"/>
<path d="M435.2,32.9 L436.3,35.8 L433.5,35.5 Z" fill="#8e3c54"/>
<line x1="444.9" y1="47.2" x2="445.9" y2="40.7" stroke="#8e3c54" stroke-width="1.8"/>
<path d="M446.0,40.2 L447.0,43.1 L444.2,42.7 Z" fill="#8e3c54"/>
<line x1="452.4" y1="56.5" x2="453.6" y2="50.1" stroke="#8e3c54" stroke-width="1.8"/>
<path d="M453.7,49.5 L454.6,52.5 L451.8,52.0 Z" fill="#8e3c54"/>
<line x1="456.4" y1="67.1" x2="457.6" y2="60.8" stroke="#8e3c54" stroke-width="1.8"/>
<path d="M457.8,60.2 L458.6,63.2 L455.8,62.6 Z" fill="#8e3c54"/>
<line x1="557.2" y1="69.9" x2="561.7" y2="69.9" stroke="#3d7db4" stroke-width="1.6"/>
<path d="M562.3,69.9 L559.5,71.3 L559.5,68.5 Z" fill="#3d7db4"/>
<line x1="555.3" y1="72.6" x2="558.7" y2="75.6" stroke="#3d7db4" stroke-width="1.6"/>
<path d="M559.1,76.0 L556.1,75.2 L558.0,73.1 Z" fill="#3d7db4"/>
<line x1="551.5" y1="73.1" x2="550.2" y2="77.4" stroke="#3d7db4" stroke-width="1.6"/>
<path d="M550.0,78.0 L549.5,74.9 L552.2,75.7 Z" fill="#3d7db4"/>
<line x1="548.5" y1="71.7" x2="544.3" y2="73.4" stroke="#3d7db4" stroke-width="1.6"/>
<path d="M543.8,73.6 L545.8,71.3 L546.9,73.9 Z" fill="#3d7db4"/>
<line x1="548.4" y1="68.4" x2="544.2" y2="66.8" stroke="#3d7db4" stroke-width="1.6"/>
<path d="M543.6,66.6 L546.7,66.3 L545.7,68.9 Z" fill="#3d7db4"/>
<line x1="551.5" y1="66.9" x2="550.2" y2="62.6" stroke="#3d7db4" stroke-width="1.6"/>
<path d="M550.0,62.0 L552.2,64.3 L549.5,65.1 Z" fill="#3d7db4"/>
<line x1="555.0" y1="67.3" x2="558.1" y2="64.0" stroke="#3d7db4" stroke-width="1.6"/>
<path d="M558.5,63.6 L557.6,66.6 L555.6,64.6 Z" fill="#3d7db4"/>
<line x1="564.1" y1="72.4" x2="570.5" y2="73.8" stroke="#6aae9e" stroke-width="1.6"/>
<path d="M571.1,73.9 L568.1,74.7 L568.6,71.9 Z" fill="#6aae9e"/>
<line x1="561.2" y1="76.2" x2="566.5" y2="79.9" stroke="#6aae9e" stroke-width="1.6"/>
<path d="M567.0,80.3 L563.9,79.8 L565.5,77.5 Z" fill="#6aae9e"/>
<line x1="555.5" y1="78.4" x2="557.7" y2="84.6" stroke="#6aae9e" stroke-width="1.6"/>
<path d="M557.9,85.1 L555.6,83.0 L558.2,82.0 Z" fill="#6aae9e"/>
<line x1="550.1" y1="78.5" x2="548.3" y2="84.8" stroke="#6aae9e" stroke-width="1.6"/>
<path d="M548.1,85.4 L547.5,82.3 L550.2,83.0 Z" fill="#6aae9e"/>
<line x1="544.6" y1="76.7" x2="539.6" y2="80.9" stroke="#6aae9e" stroke-width="1.6"/>
<path d="M539.2,81.3 L540.4,78.4 L542.2,80.5 Z" fill="#6aae9e"/>
<line x1="540.9" y1="72.5" x2="534.5" y2="73.9" stroke="#6aae9e" stroke-width="1.6"/>
<path d="M533.9,74.0 L536.4,72.0 L537.0,74.8 Z" fill="#6aae9e"/>
<line x1="541.0" y1="67.3" x2="534.7" y2="65.8" stroke="#6aae9e" stroke-width="1.6"/>
<path d="M534.1,65.7 L537.1,64.9 L536.5,67.7 Z" fill="#6aae9e"/>
<line x1="543.9" y1="63.8" x2="538.6" y2="60.0" stroke="#6aae9e" stroke-width="1.6"/>
<path d="M538.1,59.6 L541.2,60.1 L539.6,62.4 Z" fill="#6aae9e"/>
<line x1="549.3" y1="61.6" x2="547.0" y2="55.5" stroke="#6aae9e" stroke-width="1.6"/>
<path d="M546.7,55.0 L549.1,57.1 L546.4,58.1 Z" fill="#6aae9e"/>
<line x1="555.6" y1="61.6" x2="557.8" y2="55.5" stroke="#6aae9e" stroke-width="1.6"/>
<path d="M558.0,54.9 L558.3,58.0 L555.7,57.0 Z" fill="#6aae9e"/>
<line x1="561.2" y1="63.8" x2="566.5" y2="60.1" stroke="#6aae9e" stroke-width="1.6"/>
<path d="M567.0,59.7 L565.5,62.5 L563.9,60.2 Z" fill="#6aae9e"/>
<line x1="564.2" y1="67.6" x2="570.5" y2="66.4" stroke="#6aae9e" stroke-width="1.6"/>
<path d="M571.1,66.2 L568.7,68.2 L568.1,65.4 Z" fill="#6aae9e"/>
<line x1="573.0" y1="69.8" x2="579.5" y2="69.8" stroke="#b4c470" stroke-width="1.6"/>
<path d="M580.1,69.8 L577.3,71.2 L577.3,68.4 Z" fill="#b4c470"/>
<line x1="570.9" y1="76.8" x2="577.0" y2="79.0" stroke="#b4c470" stroke-width="1.6"/>
<path d="M577.6,79.2 L574.5,79.6 L575.5,76.9 Z" fill="#b4c470"/>
<line x1="567.4" y1="80.6" x2="572.7" y2="84.3" stroke="#b4c470" stroke-width="1.6"/>
<path d="M573.2,84.7 L570.1,84.2 L571.7,81.9 Z" fill="#b4c470"/>
<line x1="559.4" y1="84.4" x2="562.2" y2="90.2" stroke="#b4c470" stroke-width="1.6"/>
<path d="M562.5,90.8 L560.0,88.9 L562.5,87.7 Z" fill="#b4c470"/>
<line x1="552.9" y1="85.2" x2="553.1" y2="91.7" stroke="#b4c470" stroke-width="1.6"/>
<path d="M553.1,92.3 L551.6,89.6 L554.4,89.5 Z" fill="#b4c470"/>
<line x1="545.6" y1="84.4" x2="542.8" y2="90.2" stroke="#b4c470" stroke-width="1.6"/>
<path d="M542.5,90.8 L542.5,87.7 L545.0,88.9 Z" fill="#b4c470"/>
<line x1="538.8" y1="81.5" x2="533.9" y2="85.6" stroke="#b4c470" stroke-width="1.6"/>
<path d="M533.4,86.0 L534.6,83.2 L536.4,85.3 Z" fill="#b4c470"/>
<line x1="533.8" y1="76.4" x2="527.6" y2="78.4" stroke="#b4c470" stroke-width="1.6"/>
<path d="M527.1,78.6 L529.3,76.4 L530.2,79.1 Z" fill="#b4c470"/>
<line x1="532.0" y1="69.5" x2="525.5" y2="69.3" stroke="#b4c470" stroke-width="1.6"/>
<path d="M524.9,69.3 L527.7,68.0 L527.7,70.8 Z" fill="#b4c470"/>
<line x1="533.4" y1="64.4" x2="527.2" y2="62.6" stroke="#b4c470" stroke-width="1.6"/>
<path d="M526.6,62.4 L529.7,61.8 L528.9,64.5 Z" fill="#b4c470"/>
<line x1="538.4" y1="58.8" x2="533.3" y2="54.8" stroke="#b4c470" stroke-width="1.6"/>
<path d="M532.8,54.4 L535.9,55.1 L534.1,57.3 Z" fill="#b4c470"/>
<line x1="545.2" y1="55.7" x2="542.2" y2="49.9" stroke="#b4c470" stroke-width="1.6"/>
<path d="M542.0,49.4 L544.5,51.3 L542.0,52.5 Z" fill="#b4c470"/>
<line x1="552.3" y1="54.8" x2="552.1" y2="48.3" stroke="#b4c470" stroke-width="1.6"/>
<path d="M552.1,47.7 L553.6,50.4 L550.8,50.5 Z" fill="#b4c470"/>
<line x1="560.2" y1="55.8" x2="563.2" y2="50.1" stroke="#b4c470" stroke-width="1.6"/>
<path d="M563.5,49.6 L563.4,52.7 L561.0,51.4 Z" fill="#b4c470"/>
<line x1="566.1" y1="58.5" x2="571.0" y2="54.3" stroke="#b4c470" stroke-width="1.6"/>
<path d="M571.5,53.9 L570.3,56.8 L568.4,54.6 Z" fill="#b4c470"/>
<line x1="571.0" y1="63.3" x2="577.1" y2="61.1" stroke="#b4c470" stroke-width="1.6"/>
<path d="M577.6,60.9 L575.5,63.1 L574.5,60.5 Z" fill="#b4c470"/>
<line x1="581.7" y1="72.9" x2="588.1" y2="73.6" stroke="#dcac62" stroke-width="1.6"/>
<path d="M588.7,73.6 L585.8,74.7 L586.1,71.9 Z" fill="#dcac62"/>
<line x1="578.3" y1="80.7" x2="584.3" y2="83.2" stroke="#dcac62" stroke-width="1.6"/>
<path d="M584.9,83.4 L581.8,83.6 L582.8,81.1 Z" fill="#dcac62"/>
<line x1="573.2" y1="85.9" x2="578.3" y2="89.8" stroke="#dcac62" stroke-width="1.6"/>
<path d="M578.8,90.2 L575.7,89.6 L577.5,87.4 Z" fill="#dcac62"/>
<line x1="566.0" y1="89.7" x2="569.7" y2="95.1" stroke="#dcac62" stroke-width="1.6"/>
<path d="M570.0,95.6 L567.3,94.1 L569.6,92.5 Z" fill="#dcac62"/>
<line x1="556.7" y1="91.9" x2="557.9" y2="98.3" stroke="#dcac62" stroke-width="1.6"/>
<path d="M558.1,98.9 L556.2,96.4 L558.9,95.9 Z" fill="#dcac62"/>
<line x1="548.2" y1="91.9" x2="546.9" y2="98.3" stroke="#dcac62" stroke-width="1.6"/>
<path d="M546.8,98.9 L546.0,95.9 L548.7,96.4 Z" fill="#dcac62"/>
<line x1="540.0" y1="90.1" x2="536.5" y2="95.6" stroke="#dcac62" stroke-width="1.6"/>
<path d="M536.2,96.1 L536.5,93.0 L538.9,94.5 Z" fill="#dcac62"/>
<line x1="531.3" y1="85.5" x2="526.1" y2="89.4" stroke="#dcac62" stroke-width="1.6"/>
<path d="M525.6,89.7 L527.1,86.9 L528.7,89.2 Z" fill="#dcac62"/>
<line x1="526.1" y1="79.9" x2="520.1" y2="82.2" stroke="#dcac62" stroke-width="1.6"/>
<path d="M519.5,82.4 L521.6,80.1 L522.6,82.8 Z" fill="#dcac62"/>
<line x1="523.6" y1="74.2" x2="517.2" y2="75.1" stroke="#dcac62" stroke-width="1.6"/>
<path d="M516.6,75.2 L519.1,73.4 L519.5,76.2 Z" fill="#dcac62"/>
<line x1="523.5" y1="66.3" x2="517.0" y2="65.4" stroke="#dcac62" stroke-width="1.6"/>
<path d="M516.5,65.3 L519.4,64.3 L519.1,67.1 Z" fill="#dcac62"/>
<line x1="526.4" y1="59.6" x2="520.4" y2="57.2" stroke="#dcac62" stroke-width="1.6"/>
<path d="M519.9,57.0 L523.0,56.7 L521.9,59.3 Z" fill="#dcac62"/>
<line x1="532.8" y1="53.5" x2="527.8" y2="49.3" stroke="#dcac62" stroke-width="1.6"/>
<path d="M527.3,48.9 L530.4,49.6 L528.6,51.8 Z" fill="#dcac62"/>
<line x1="540.0" y1="49.9" x2="536.6" y2="44.3" stroke="#dcac62" stroke-width="1.6"/>
<path d="M536.3,43.8 L539.0,45.5 L536.6,46.9 Z" fill="#dcac62"/>
<line x1="547.4" y1="48.2" x2="546.0" y2="41.8" stroke="#dcac62" stroke-width="1.6"/>
<path d="M545.8,41.2 L547.8,43.7 L545.1,44.3 Z" fill="#dcac62"/>
<line x1="558.3" y1="48.3" x2="560.0" y2="42.0" stroke="#dcac62" stroke-width="1.6"/>
<path d="M560.1,41.4 L560.8,44.5 L558.1,43.7 Z" fill="#dcac62"/>
<line x1="564.5" y1="49.7" x2="567.9" y2="44.1" stroke="#dcac62" stroke-width="1.6"/>
<path d="M568.2,43.6 L567.9,46.7 L565.5,45.3 Z" fill="#dcac62"/>
<line x1="572.9" y1="53.9" x2="578.0" y2="49.9" stroke="#dcac62" stroke-width="1.6"/>
<path d="M578.4,49.5 L577.1,52.3 L575.4,50.1 Z" fill="#dcac62"/>
<line x1="578.9" y1="60.2" x2="585.0" y2="57.9" stroke="#dcac62" stroke-width="1.6"/>
<path d="M585.6,57.7 L583.5,60.0 L582.5,57.4 Z" fill="#dcac62"/>
<line x1="581.4" y1="65.6" x2="587.8" y2="64.7" stroke="#dcac62" stroke-width="1.6"/>
<path d="M588.4,64.6 L585.8,66.4 L585.4,63.6 Z" fill="#dcac62"/>
<line x1="590.8" y1="70.0" x2="597.3" y2="70.0" stroke="#c87862" stroke-width="1.6"/>
<path d="M597.9,70.0 L595.1,71.4 L595.1,68.6 Z" fill="#c87862"/>
<line x1="589.9" y1="76.4" x2="596.3" y2="77.5" stroke="#c87862" stroke-width="1.6"/>
<path d="M596.9,77.6 L593.9,78.5 L594.4,75.7 Z" fill="#c87862"/>
<line x1="585.2" y1="85.3" x2="591.1" y2="88.0" stroke="#c87862" stroke-width="1.6"/>
<path d="M591.6,88.3 L588.5,88.4 L589.7,85.8 Z" fill="#c87862"/>
<line x1="578.6" y1="91.4" x2="583.6" y2="95.5" stroke="#c87862" stroke-width="1.6"/>
<path d="M584.1,95.9 L581.0,95.2 L582.8,93.0 Z" fill="#c87862"/>
<line x1="571.1" y1="95.5" x2="574.9" y2="100.7" stroke="#c87862" stroke-width="1.6"/>
<path d="M575.3,101.2 L572.5,99.8 L574.8,98.1 Z" fill="#c87862"/>
<line x1="560.8" y1="98.4" x2="562.7" y2="104.6" stroke="#c87862" stroke-width="1.6"/>
<path d="M562.8,105.2 L560.7,102.9 L563.4,102.1 Z" fill="#c87862"/>
<line x1="553.2" y1="99.1" x2="553.4" y2="105.6" stroke="#c87862" stroke-width="1.6"/>
<path d="M553.4,106.2 L551.9,103.4 L554.7,103.4 Z" fill="#c87862"/>
<line x1="542.1" y1="98.0" x2="539.8" y2="104.1" stroke="#c87862" stroke-width="1.6"/>
<path d="M539.6,104.7 L539.3,101.6 L541.9,102.5 Z" fill="#c87862"/>
<line x1="533.3" y1="95.3" x2="529.4" y2="100.4" stroke="#c87862" stroke-width="1.6"/>
<path d="M529.0,100.9 L529.6,97.8 L531.9,99.5 Z" fill="#c87862"/>
<line x1="525.4" y1="90.7" x2="520.3" y2="94.7" stroke="#c87862" stroke-width="1.6"/>
<path d="M519.8,95.0 L521.2,92.2 L522.9,94.4 Z" fill="#c87862"/>
<line x1="519.5" y1="84.9" x2="513.6" y2="87.6" stroke="#c87862" stroke-width="1.6"/>
<path d="M513.1,87.9 L515.0,85.5 L516.2,88.0 Z" fill="#c87862"/>
<line x1="515.2" y1="76.7" x2="508.8" y2="77.9" stroke="#c87862" stroke-width="1.6"/>
<path d="M508.2,78.0 L510.7,76.1 L511.2,78.9 Z" fill="#c87862"/>
<line x1="514.2" y1="68.7" x2="507.7" y2="68.4" stroke="#c87862" stroke-width="1.6"/>
<path d="M507.1,68.4 L510.0,67.1 L509.9,69.9 Z" fill="#c87862"/>
<line x1="515.5" y1="62.4" x2="509.1" y2="61.1" stroke="#c87862" stroke-width="1.6"/>
<path d="M508.5,60.9 L511.6,60.1 L511.0,62.9 Z" fill="#c87862"/>
<line x1="519.8" y1="54.7" x2="513.9" y2="52.0" stroke="#c87862" stroke-width="1.6"/>
<path d="M513.3,51.7 L516.5,51.7 L515.3,54.2 Z" fill="#c87862"/>
<line x1="524.5" y1="50.0" x2="519.2" y2="46.3" stroke="#c87862" stroke-width="1.6"/>
<path d="M518.7,45.9 L521.8,46.4 L520.2,48.7 Z" fill="#c87862"/>
<line x1="534.3" y1="44.3" x2="530.6" y2="39.0" stroke="#c87862" stroke-width="1.6"/>
<path d="M530.2,38.5 L533.0,40.0 L530.7,41.6 Z" fill="#c87862"/>
<line x1="543.3" y1="41.7" x2="541.3" y2="35.6" stroke="#c87862" stroke-width="1.6"/>
<path d="M541.1,35.0 L543.3,37.2 L540.7,38.1 Z" fill="#c87862"/>
<line x1="554.3" y1="40.9" x2="554.8" y2="34.5" stroke="#c87862" stroke-width="1.6"/>
<path d="M554.8,33.9 L556.0,36.7 L553.2,36.6 Z" fill="#c87862"/>
<line x1="563.4" y1="42.1" x2="565.7" y2="36.0" stroke="#c87862" stroke-width="1.6"/>
<path d="M565.9,35.5 L566.2,38.6 L563.6,37.6 Z" fill="#c87862"/>
<line x1="570.6" y1="44.3" x2="574.4" y2="39.0" stroke="#c87862" stroke-width="1.6"/>
<path d="M574.7,38.5 L574.3,41.6 L572.0,40.0 Z" fill="#c87862"/>
<line x1="579.0" y1="48.9" x2="584.1" y2="44.8" stroke="#c87862" stroke-width="1.6"/>
<path d="M584.6,44.5 L583.3,47.3 L581.5,45.1 Z" fill="#c87862"/>
<line x1="585.9" y1="55.6" x2="591.8" y2="53.0" stroke="#c87862" stroke-width="1.6"/>
<path d="M592.4,52.8 L590.4,55.2 L589.3,52.6 Z" fill="#c87862"/>
<line x1="588.9" y1="60.9" x2="595.3" y2="59.4" stroke="#c87862" stroke-width="1.6"/>
<path d="M595.8,59.2 L593.5,61.3 L592.8,58.5 Z" fill="#c87862"/>
<line x1="600.9" y1="78.7" x2="602.1" y2="72.3" stroke="#8e3c54" stroke-width="1.8"/>
<path d="M602.3,71.7 L603.1,74.7 L600.3,74.2 Z" fill="#8e3c54"/>
<line x1="596.9" y1="89.2" x2="598.1" y2="82.8" stroke="#8e3c54" stroke-width="1.8"/>
<path d="M598.2,82.2 L599.1,85.2 L596.3,84.7 Z" fill="#8e3c54"/>
<line x1="589.4" y1="98.4" x2="590.4" y2="92.0" stroke="#8e3c54" stroke-width="1.8"/>
<path d="M590.5,91.4 L591.5,94.4 L588.7,94.0 Z" fill="#8e3c54"/>
<line x1="578.9" y1="105.6" x2="579.6" y2="99.2" stroke="#8e3c54" stroke-width="1.8"/>
<path d="M579.7,98.6 L580.8,101.5 L578.0,101.2 Z" fill="#8e3c54"/>
<line x1="566.3" y1="110.2" x2="566.6" y2="103.7" stroke="#8e3c54" stroke-width="1.8"/>
<path d="M566.7,103.1 L567.9,106.0 L565.1,105.8 Z" fill="#8e3c54"/>
<line x1="552.5" y1="111.8" x2="552.5" y2="105.2" stroke="#8e3c54" stroke-width="1.8"/>
<path d="M552.5,104.7 L553.9,107.5 L551.1,107.5 Z" fill="#8e3c54"/>
<line x1="538.7" y1="110.2" x2="538.4" y2="103.7" stroke="#8e3c54" stroke-width="1.8"/>
<path d="M538.3,103.1 L539.9,105.8 L537.1,106.0 Z" fill="#8e3c54"/>
<line x1="526.1" y1="105.6" x2="525.4" y2="99.2" stroke="#8e3c54" stroke-width="1.8"/>
<path d="M525.3,98.6 L527.0,101.2 L524.2,101.5 Z" fill="#8e3c54"/>
<line x1="515.6" y1="98.4" x2="514.6" y2="92.0" stroke="#8e3c54" stroke-width="1.8"/>
<path d="M514.5,91.4 L516.3,94.0 L513.5,94.4 Z" fill="#8e3c54"/>
<line x1="508.1" y1="89.2" x2="506.9" y2="82.8" stroke="#8e3c54" stroke-width="1.8"/>
<path d="M506.8,82.2 L508.7,84.7 L505.9,85.2 Z" fill="#8e3c54"/>
<line x1="504.1" y1="78.7" x2="502.9" y2="72.3" stroke="#8e3c54" stroke-width="1.8"/>
<path d="M502.7,71.7 L504.7,74.2 L501.9,74.7 Z" fill="#8e3c54"/>
<line x1="504.1" y1="67.7" x2="502.9" y2="61.3" stroke="#8e3c54" stroke-width="1.8"/>
<path d="M502.7,60.7 L504.7,63.2 L501.9,63.8 Z" fill="#8e3c54"/>
<line x1="508.1" y1="57.2" x2="506.9" y2="50.8" stroke="#8e3c54" stroke-width="1.8"/>
<path d="M506.8,50.2 L508.7,52.7 L505.9,53.2 Z" fill="#8e3c54"/>
<line x1="515.6" y1="48.0" x2="514.6" y2="41.6" stroke="#8e3c54" stroke-width="1.8"/>
<path d="M514.5,41.0 L516.3,43.5 L513.5,44.0 Z" fill="#8e3c54"/>
<line x1="526.1" y1="40.8" x2="525.4" y2="34.4" stroke="#8e3c54" stroke-width="1.8"/>
<path d="M525.3,33.8 L527.0,36.4 L524.2,36.7 Z" fill="#8e3c54"/>
<line x1="538.7" y1="36.3" x2="538.4" y2="29.8" stroke="#8e3c54" stroke-width="1.8"/>
<path d="M538.3,29.2 L539.9,31.9 L537.1,32.1 Z" fill="#8e3c54"/>
<line x1="552.5" y1="34.8" x2="552.5" y2="28.2" stroke="#8e3c54" stroke-width="1.8"/>
<path d="M552.5,27.6 L553.9,30.4 L551.1,30.4 Z" fill="#8e3c54"/>
<line x1="566.3" y1="36.3" x2="566.6" y2="29.8" stroke="#8e3c54" stroke-width="1.8"/>
<path d="M566.7,29.2 L567.9,32.1 L565.1,31.9 Z" fill="#8e3c54"/>
<line x1="578.9" y1="40.8" x2="579.6" y2="34.4" stroke="#8e3c54" stroke-width="1.8"/>
<path d="M579.7,33.8 L580.8,36.7 L578.0,36.4 Z" fill="#8e3c54"/>
<line x1="589.4" y1="48.0" x2="590.4" y2="41.6" stroke="#8e3c54" stroke-width="1.8"/>
<path d="M590.5,41.0 L591.5,44.0 L588.7,43.5 Z" fill="#8e3c54"/>
<line x1="596.9" y1="57.2" x2="598.1" y2="50.8" stroke="#8e3c54" stroke-width="1.8"/>
<path d="M598.2,50.2 L599.1,53.2 L596.3,52.7 Z" fill="#8e3c54"/>
<line x1="600.9" y1="67.7" x2="602.1" y2="61.3" stroke="#8e3c54" stroke-width="1.8"/>
<path d="M602.3,60.7 L603.1,63.8 L600.3,63.2 Z" fill="#8e3c54"/>
</g>
<text x="339.9" y="128.1" font-size="14" text-anchor="start" fill="#000" font-weight="normal" font-style="normal"  stroke="#000" stroke-width="0.22">Bloch-type skyrmion</text>
<text x="489.9" y="127.6" font-size="14" text-anchor="start" fill="#000" font-weight="normal" font-style="normal"  stroke="#000" stroke-width="0.22">Néel-type skyrmion</text>
<text x="317.2" y="172.8" font-size="15" text-anchor="start" fill="#000" font-weight="bold" font-style="normal"  stroke="#000" stroke-width="0.22">C</text>
<defs>
<linearGradient id="stemg" x1="0" y1="0" x2="0" y2="1"><stop offset="0" stop-color="#3a3a3a"/><stop offset="0.074" stop-color="#414141"/><stop offset="0.13" stop-color="#4b4b4b"/><stop offset="0.18" stop-color="#5e5e5e"/><stop offset="0.235" stop-color="#787878"/><stop offset="0.28" stop-color="#868686"/><stop offset="0.33" stop-color="#808080"/><stop offset="0.39" stop-color="#6c6c6c"/><stop offset="0.455" stop-color="#565656"/><stop offset="0.53" stop-color="#484848"/><stop offset="0.66" stop-color="#3e3e3e"/><stop offset="1" stop-color="#393939"/></linearGradient>
<linearGradient id="stemm" x1="0" y1="0" x2="0" y2="1"><stop offset="0" stop-color="#fff" stop-opacity="0.45"/><stop offset="0.13" stop-color="#fff" stop-opacity="0.5"/><stop offset="0.22" stop-color="#fff" stop-opacity="0.72"/><stop offset="0.29" stop-color="#fff" stop-opacity="0.88"/><stop offset="0.36" stop-color="#fff" stop-opacity="0.8"/><stop offset="0.47" stop-color="#fff" stop-opacity="0.6"/><stop offset="0.6" stop-color="#fff" stop-opacity="0.48"/><stop offset="1" stop-color="#fff" stop-opacity="0.45"/></linearGradient>
<mask id="stemmask" maskUnits="userSpaceOnUse" x="464.2" y="150.2" width="146" height="136"><rect x="464.2" y="150.2" width="146" height="136" fill="url(#stemm)"/></mask>
<radialGradient id="dotg"><stop offset="0" stop-color="#fff" stop-opacity="1"/><stop offset="0.5" stop-color="#fff" stop-opacity="0.8"/><stop offset="1" stop-color="#fff" stop-opacity="0"/></radialGradient>
<pattern id="lat" x="465.4" y="150.6" width="6.05" height="6.2" patternUnits="userSpaceOnUse"><circle cx="3.02" cy="3.1" r="2.2" fill="url(#dotg)"/><circle cx="0" cy="0" r="1.8" fill="url(#dotg)" fill-opacity="0.5"/><circle cx="6.05" cy="0" r="1.8" fill="url(#dotg)" fill-opacity="0.5"/><circle cx="0" cy="6.2" r="1.8" fill="url(#dotg)" fill-opacity="0.5"/><circle cx="6.05" cy="6.2" r="1.8" fill="url(#dotg)" fill-opacity="0.5"/></pattern>
</defs>
<rect x="464.2" y="150.2" width="146" height="136" fill="url(#stemg)"/>
<rect x="464.2" y="150.2" width="146" height="136" fill="url(#lat)" mask="url(#stemmask)"/>
<text x="473.6" y="277.6" font-size="16" fill="#fff" stroke="#fff" stroke-width="0.22"><tspan font-style="italic">m</tspan> = 4</text>
<text x="584.8" y="277.9" font-size="14" fill="#fff" text-anchor="middle" stroke="#fff" stroke-width="0.22">1 nm</text>
<path d="M578.4,260.9 H595.8 M578.4,257.6 V264.2 M595.8,257.6 V264.2" stroke="#fff" stroke-width="1.9" fill="none"/>
<rect x="340.7" y="150.5" width="92.90000000000003" height="39.5" fill="#4f81bd"/>
<rect x="340.7" y="192.3" width="92.90000000000003" height="68.5" fill="#f79646"/>
<rect x="340.7" y="260.8" width="92.90000000000003" height="53.2" fill="#eeece1"/>
<rect x="340.7" y="190" width="92.90000000000003" height="2.3" fill="#ffffff"/>
<path d="M340.7,150.5 H433.6 V314 H340.7 Z M340.7,260.8 H433.6" fill="none" stroke="#1a1a1a" stroke-width="1.3"/>
<path d="M360.1,184 H403 V177.3 L416.3,191 L403,204.3 V198.2 H360.1 Z" fill="#77933c" stroke="#ffffff" stroke-width="1.2"/>
<text x="385" y="195.8" font-size="14" text-anchor="middle" fill="#fff" stroke="#fff" stroke-width="0.22">DM</text>
<text x="387.3" y="171.2" font-size="14" text-anchor="middle" fill="#fff" stroke="#fff" stroke-width="0.22">SrIrO<tspan font-size="10" dy="3">3</tspan><tspan dy="-3"> 2 uc</tspan></text>
<text x="386.7" y="219.5" font-size="14" text-anchor="middle" fill="#fff" stroke="#fff" stroke-width="0.22">SrRuO<tspan font-size="10" dy="3">3</tspan></text>
<text x="387" y="235.8" font-size="14" text-anchor="middle" fill="#fff" stroke="#fff" stroke-width="0.22"><tspan font-style="italic">m</tspan> uc</text>
<text x="386.7" y="252.4" font-size="14" text-anchor="middle" fill="#fff" stroke="#fff" stroke-width="0.22">(<tspan font-style="italic">m</tspan> = 4 – 7)</text>
<text x="386.4" y="285.2" font-size="14" text-anchor="middle" fill="#111" stroke="#111" stroke-width="0.22">SrTiO<tspan font-size="10" dy="3">3</tspan><tspan dy="-3">(001)</tspan></text>
<text x="386.7" y="300.5" font-size="14" text-anchor="middle" fill="#111" stroke="#111" stroke-width="0.22">substrate</text>
<line x1="433.6" y1="150.2" x2="464.8" y2="177.3" stroke="#151515" stroke-width="1.35" stroke-dasharray="3.4,2.5"/>
<line x1="433.6" y1="190.5" x2="464.8" y2="190.5" stroke="#151515" stroke-width="1.35" stroke-dasharray="3.4,2.5"/>
<line x1="433.6" y1="260.9" x2="464.8" y2="217.3" stroke="#151515" stroke-width="1.35" stroke-dasharray="3.4,2.5"/>
<text x="317.4" y="374.3" font-size="15" text-anchor="start" fill="#000" font-weight="bold" font-style="normal"  stroke="#000" stroke-width="0.22">D</text>
<line x1="395.6" y1="389.5" x2="608.2" y2="389.5" stroke="#111" stroke-width="1.0" />
<g clip-path="url(#clipD)">
<path d="M405.40,483.50 C405.87,483.35 406.98,483.30 408.20,482.60 C409.42,481.90 410.83,480.90 412.70,479.30 C414.57,477.70 417.03,475.63 419.40,473.00 C421.77,470.37 424.20,466.60 426.90,463.50 C429.60,460.40 432.82,457.78 435.60,454.40 C438.38,451.02 440.62,447.28 443.60,443.20 C446.58,439.12 450.12,433.98 453.50,429.90 C456.88,425.82 460.17,422.42 463.90,418.70 C467.63,414.98 471.50,411.13 475.90,407.60 C480.30,404.07 484.85,400.48 490.30,397.50 C495.75,394.52 500.40,391.92 508.60,389.70 C516.80,387.48 525.92,386.13 539.50,384.20 C553.08,382.27 578.80,379.27 590.10,378.10 C601.40,376.93 604.43,377.35 607.30,377.20" fill="none" stroke="#ff1414" stroke-width="1.6"/>
<circle cx="405.4" cy="483.5" r="3.7" fill="#ff1414"/>
<circle cx="408.2" cy="482.6" r="3.7" fill="#ff1414"/>
<circle cx="412.7" cy="479.3" r="3.7" fill="#ff1414"/>
<circle cx="419.4" cy="473" r="3.7" fill="#ff1414"/>
<circle cx="426.9" cy="463.5" r="3.7" fill="#ff1414"/>
<circle cx="435.6" cy="454.4" r="3.7" fill="#ff1414"/>
<circle cx="443.6" cy="443.2" r="3.7" fill="#ff1414"/>
<circle cx="453.5" cy="429.9" r="3.7" fill="#ff1414"/>
<circle cx="463.9" cy="418.7" r="3.7" fill="#ff1414"/>
<circle cx="475.9" cy="407.6" r="3.7" fill="#ff1414"/>
<circle cx="490.3" cy="397.5" r="3.7" fill="#ff1414"/>
<circle cx="539.5" cy="384.2" r="3.7" fill="#ff1414"/>
<circle cx="590.1" cy="378.1" r="3.7" fill="#ff1414"/>
<polyline points="443,453.9 449,452.6 453.5,449 457.2,444.5 465.3,431.2 471.7,424.5 478,412.7 484.4,404 493.7,390.4 505.3,385.3 516.3,378.1 537.3,378.7 573.6,371.5 604.4,373.7 607.8,376.5" fill="none" stroke="#3a10f2" stroke-width="1.6"/>
<circle cx="443" cy="453.9" r="3.7" fill="#3a10f2"/>
<circle cx="449" cy="452.6" r="3.7" fill="#3a10f2"/>
<circle cx="453.5" cy="449" r="3.7" fill="#3a10f2"/>
<circle cx="457.2" cy="444.5" r="3.7" fill="#3a10f2"/>
<circle cx="465.3" cy="431.2" r="3.7" fill="#3a10f2"/>
<circle cx="471.7" cy="424.5" r="3.7" fill="#3a10f2"/>
<circle cx="478" cy="412.7" r="3.7" fill="#3a10f2"/>
<circle cx="484.4" cy="404" r="3.7" fill="#3a10f2"/>
<circle cx="493.7" cy="390.4" r="3.7" fill="#3a10f2"/>
<circle cx="505.3" cy="385.3" r="3.7" fill="#3a10f2"/>
<circle cx="516.3" cy="378.1" r="3.7" fill="#3a10f2"/>
<circle cx="537.3" cy="378.7" r="3.7" fill="#3a10f2"/>
<circle cx="573.6" cy="371.5" r="3.7" fill="#3a10f2"/>
<circle cx="604.4" cy="373.7" r="3.7" fill="#3a10f2"/>
<circle cx="607.8" cy="376.5" r="3.7" fill="#3a10f2"/>
<polyline points="469.9,420.9 474.4,419.1 479.9,415.4 484.4,410.9 491.7,405.1 500.3,399.2 507.5,393 516.3,387.5 525.8,382.7 545.6,379.4 558.2,376.5 576.9,375.9 592.3,380.9 600,382 607.3,384.2" fill="none" stroke="#00b36b" stroke-width="1.6"/>
<circle cx="469.9" cy="420.9" r="3.7" fill="#00b36b"/>
<circle cx="474.4" cy="419.1" r="3.7" fill="#00b36b"/>
<circle cx="479.9" cy="415.4" r="3.7" fill="#00b36b"/>
<circle cx="484.4" cy="410.9" r="3.7" fill="#00b36b"/>
<circle cx="491.7" cy="405.1" r="3.7" fill="#00b36b"/>
<circle cx="500.3" cy="399.2" r="3.7" fill="#00b36b"/>
<circle cx="507.5" cy="393" r="3.7" fill="#00b36b"/>
<circle cx="516.3" cy="387.5" r="3.7" fill="#00b36b"/>
<circle cx="525.8" cy="382.7" r="3.7" fill="#00b36b"/>
<circle cx="545.6" cy="379.4" r="3.7" fill="#00b36b"/>
<circle cx="558.2" cy="376.5" r="3.7" fill="#00b36b"/>
<circle cx="576.9" cy="375.9" r="3.7" fill="#00b36b"/>
<circle cx="592.3" cy="380.9" r="3.7" fill="#00b36b"/>
<circle cx="600" cy="382" r="3.7" fill="#00b36b"/>
<circle cx="607.3" cy="384.2" r="3.7" fill="#00b36b"/>
<polyline points="554.9,387.6 560.4,387.6 565.9,387.6 571.4,387.6 576.9,387.6 582.4,387.6 587.9,387.6 594.5,387.6 603.3,387.6 606.7,387.6" fill="none" stroke="#e68a0c" stroke-width="1.6"/>
<circle cx="554.9" cy="387.6" r="3.7" fill="#e68a0c"/>
<circle cx="560.4" cy="387.6" r="3.7" fill="#e68a0c"/>
<circle cx="565.9" cy="387.6" r="3.7" fill="#e68a0c"/>
<circle cx="571.4" cy="387.6" r="3.7" fill="#e68a0c"/>
<circle cx="576.9" cy="387.6" r="3.7" fill="#e68a0c"/>
<circle cx="582.4" cy="387.6" r="3.7" fill="#e68a0c"/>
<circle cx="587.9" cy="387.6" r="3.7" fill="#e68a0c"/>
<circle cx="594.5" cy="387.6" r="3.7" fill="#e68a0c"/>
<circle cx="603.3" cy="387.6" r="3.7" fill="#e68a0c"/>
<circle cx="606.7" cy="387.6" r="3.7" fill="#e68a0c"/>
</g>
<rect x="395.6" y="345.5" width="212.60000000000002" height="158.7" fill="none" stroke="#111" stroke-width="1.2"/>
<line x1="418.36" y1="345.5" x2="418.36" y2="351.5" stroke="#111" stroke-width="1.0" />
<line x1="418.36" y1="504.2" x2="418.36" y2="498.2" stroke="#111" stroke-width="1.0" />
<line x1="465.82000000000005" y1="345.5" x2="465.82000000000005" y2="351.5" stroke="#111" stroke-width="1.0" />
<line x1="465.82000000000005" y1="504.2" x2="465.82000000000005" y2="498.2" stroke="#111" stroke-width="1.0" />
<line x1="513.28" y1="345.5" x2="513.28" y2="351.5" stroke="#111" stroke-width="1.0" />
<line x1="513.28" y1="504.2" x2="513.28" y2="498.2" stroke="#111" stroke-width="1.0" />
<line x1="560.74" y1="345.5" x2="560.74" y2="351.5" stroke="#111" stroke-width="1.0" />
<line x1="560.74" y1="504.2" x2="560.74" y2="498.2" stroke="#111" stroke-width="1.0" />
<line x1="395.6" y1="433.8" x2="401.6" y2="433.8" stroke="#111" stroke-width="1.0" />
<line x1="608.2" y1="433.8" x2="602.2" y2="433.8" stroke="#111" stroke-width="1.0" />
<line x1="395.6" y1="478.1" x2="401.6" y2="478.1" stroke="#111" stroke-width="1.0" />
<line x1="608.2" y1="478.1" x2="602.2" y2="478.1" stroke="#111" stroke-width="1.0" />
<text x="418.36" y="518.8" font-size="12" text-anchor="middle" fill="#000" font-weight="normal" font-style="normal"  stroke="#000" stroke-width="0.22">0.8</text>
<text x="465.82" y="518.8" font-size="12" text-anchor="middle" fill="#000" font-weight="normal" font-style="normal"  stroke="#000" stroke-width="0.22">0.6</text>
<text x="513.28" y="518.8" font-size="12" text-anchor="middle" fill="#000" font-weight="normal" font-style="normal"  stroke="#000" stroke-width="0.22">0.4</text>
<text x="560.74" y="518.8" font-size="12" text-anchor="middle" fill="#000" font-weight="normal" font-style="normal"  stroke="#000" stroke-width="0.22">0.2</text>
<text x="608.2" y="518.8" font-size="12" text-anchor="middle" fill="#000" font-weight="normal" font-style="normal"  stroke="#000" stroke-width="0.22">0</text>
<text x="391.5" y="349.5" font-size="12" text-anchor="end" fill="#000" font-weight="normal" font-style="normal"  stroke="#000" stroke-width="0.22">10</text>
<text x="391.5" y="393.8" font-size="12" text-anchor="end" fill="#000" font-weight="normal" font-style="normal"  stroke="#000" stroke-width="0.22">0</text>
<text x="391.5" y="438.1" font-size="12" text-anchor="end" fill="#000" font-weight="normal" font-style="normal"  stroke="#000" stroke-width="0.22">−10</text>
<text x="391.5" y="482.4" font-size="12" text-anchor="end" fill="#000" font-weight="normal" font-style="normal"  stroke="#000" stroke-width="0.22">−20</text>
<text x="501.5" y="536.3" font-size="14.8" text-anchor="middle" stroke="#000" stroke-width="0.22"><tspan font-style="italic">M</tspan> (μ<tspan font-size="10.5" dy="3.5">B</tspan><tspan dy="-3.5">/Ru)</tspan></text>
<text transform="translate(364.8,423.2) rotate(-90)" font-size="14.8" text-anchor="middle" stroke="#000" stroke-width="0.22">σ<tspan font-size="10.5" font-style="italic" dy="2.5">H</tspan><tspan font-size="10.5" font-style="italic" dy="-12" dx="0.5">A</tspan><tspan dy="9.5"> (S•cm</tspan><tspan font-size="10.5" dy="-9.5">−1</tspan><tspan dy="9.5">)</tspan></text>
<line x1="514.7" y1="432.8" x2="543.8" y2="432.8" stroke="#ff1414" stroke-width="1.6" />
<circle cx="529.2" cy="432.8" r="5.2" fill="#ff1414"/>
<line x1="514.7" y1="450.2" x2="543.8" y2="450.2" stroke="#3a10f2" stroke-width="1.6" />
<circle cx="529.2" cy="450.2" r="5.2" fill="#3a10f2"/>
<line x1="514.7" y1="468.1" x2="543.8" y2="468.1" stroke="#00b36b" stroke-width="1.6" />
<circle cx="529.2" cy="468.1" r="5.2" fill="#00b36b"/>
<line x1="514.7" y1="486" x2="543.8" y2="486" stroke="#e68a0c" stroke-width="1.6" />
<circle cx="529.2" cy="486" r="5.2" fill="#e68a0c"/>
<text x="590.8" y="438.0" font-size="15.4" text-anchor="end" stroke="#000" stroke-width="0.22"><tspan font-style="italic">m</tspan> = 7</text>
<text x="590.8" y="455.6" font-size="15.4" text-anchor="end" fill="#000" font-weight="normal" font-style="normal"  stroke="#000" stroke-width="0.22">6</text>
<text x="590.8" y="473.4" font-size="15.4" text-anchor="end" fill="#000" font-weight="normal" font-style="normal"  stroke="#000" stroke-width="0.22">5</text>
<text x="590.8" y="491.3" font-size="15.4" text-anchor="end" fill="#000" font-weight="normal" font-style="normal"  stroke="#000" stroke-width="0.22">4</text>
</svg>
</body></html>
